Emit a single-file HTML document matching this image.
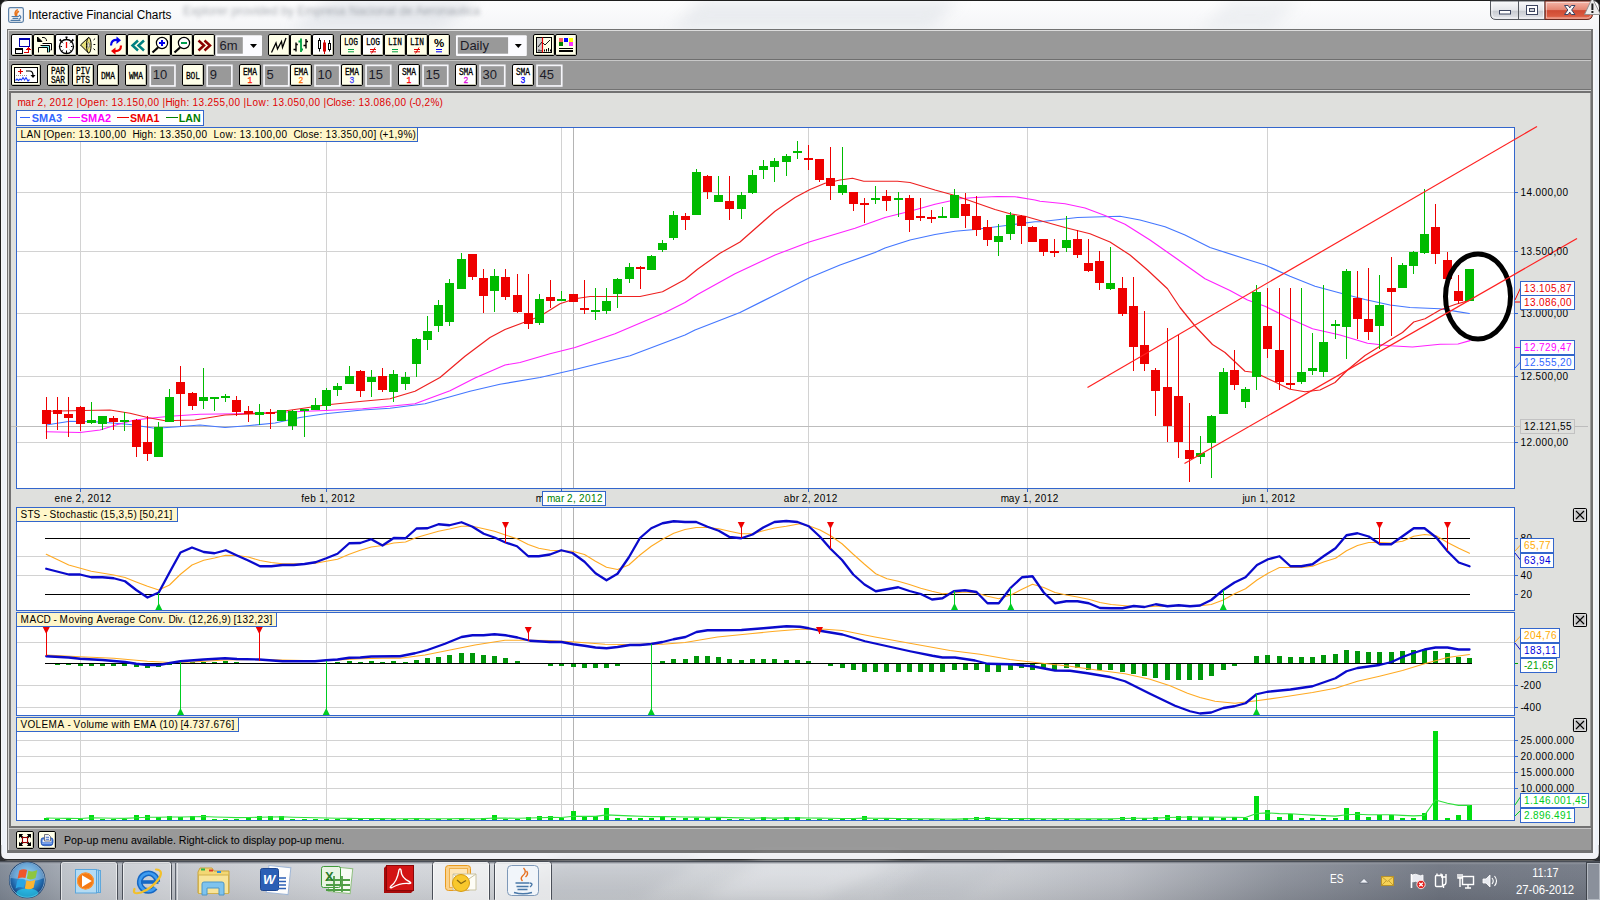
<!DOCTYPE html>
<html lang="es"><head><meta charset="utf-8"><title>Interactive Financial Charts</title>
<style>html,body{margin:0;padding:0;background:#f3f5f8;overflow:hidden}svg{display:block;font-family:"Liberation Sans",Arial,sans-serif}</style></head>
<body><svg width="1600" height="900" viewBox="0 0 1600 900">
<defs><linearGradient id="gTitle" x1="0" y1="0" x2="0" y2="1"><stop offset="0" stop-color="#fdfdfe"/><stop offset="1" stop-color="#f4f5f7"/></linearGradient><linearGradient id="gStreak" x1="0" y1="0" x2="1" y2="0"><stop offset="0" stop-color="#e9ecf0" stop-opacity="0"/><stop offset="0.3" stop-color="#dfe3e8" stop-opacity="0.9"/><stop offset="0.6" stop-color="#e9ecf0" stop-opacity="0.5"/><stop offset="1" stop-color="#e9ecf0" stop-opacity="0"/></linearGradient><linearGradient id="gClose" x1="0" y1="0" x2="0" y2="1"><stop offset="0" stop-color="#f6b9ac"/><stop offset="0.47" stop-color="#e48673"/><stop offset="0.52" stop-color="#cf4a33"/><stop offset="0.8" stop-color="#d95a40"/><stop offset="1" stop-color="#e9846c"/></linearGradient><linearGradient id="gCap" x1="0" y1="0" x2="0" y2="1"><stop offset="0" stop-color="#fafbfc"/><stop offset="0.5" stop-color="#e3e5e9"/><stop offset="0.55" stop-color="#c9ccd2"/><stop offset="1" stop-color="#e6e8ec"/></linearGradient><linearGradient id="gTask" x1="0" y1="0" x2="1" y2="0"><stop offset="0" stop-color="#7e8794"/><stop offset="0.05" stop-color="#a9afb8"/><stop offset="0.12" stop-color="#c4c7cd"/><stop offset="0.2" stop-color="#d2d5da"/><stop offset="0.38" stop-color="#d3d6da"/><stop offset="0.6" stop-color="#cfd2d7"/><stop offset="0.7" stop-color="#b9bcc3"/><stop offset="0.8" stop-color="#8d929c"/><stop offset="0.9" stop-color="#6f7581"/><stop offset="1" stop-color="#737985"/></linearGradient><linearGradient id="gTaskV" x1="0" y1="0" x2="0" y2="1"><stop offset="0" stop-color="#ffffff" stop-opacity="0.35"/><stop offset="0.1" stop-color="#ffffff" stop-opacity="0.05"/><stop offset="1" stop-color="#000000" stop-opacity="0.08"/></linearGradient><radialGradient id="gOrb" cx="0.5" cy="0.4" r="0.6"><stop offset="0" stop-color="#6fc3ee"/><stop offset="0.6" stop-color="#2b7fc4"/><stop offset="1" stop-color="#123f7a"/></radialGradient></defs>
<rect x="0" y="0" width="1600" height="900" fill="#f6f7f9" shape-rendering="crispEdges"/>
<rect x="0" y="0" width="1600" height="30" fill="url(#gTitle)" shape-rendering="crispEdges"/>
<filter id="fBlur2" x="-20%" y="-100%" width="140%" height="300%"><feGaussianBlur stdDeviation="7"/></filter>
<polygon points="330,0 480,0 440,30 290,30" fill="#e2e5ea" opacity="0.8" filter="url(#fBlur2)"/>
<polygon points="700,0 960,0 930,30 670,30" fill="#e6e9ed" opacity="0.8" filter="url(#fBlur2)"/>
<polygon points="1230,0 1300,0 1270,30 1200,30" fill="#e6e9ed" opacity="0.6" filter="url(#fBlur2)"/>
<path d="M0.5,900 V8 Q0.5,0.5 8,0.5 H1592 Q1599.5,0.5 1599.5,8 V900" fill="none" stroke="#1e1e1e" stroke-width="1"/>
<path d="M0,0 H9 Q0,0 0,9 Z" fill="#1a1a1a"/>
<path d="M1600,0 H1591 Q1600,0 1600,9 Z" fill="#1a1a1a"/>
<g><rect x="8.6" y="7.7" width="14.8" height="14.6" rx="1.8" fill="#f3f4f6" stroke="#5c81a8" stroke-width="1.2"/><path d="M17.300,9.900 q-3.300,2.200 -1.700,5.700 M18.400,11.500 q-2.600,1.700 -1.700,4.200" stroke="#e8741c" stroke-width="1.500" fill="none" stroke-linecap="round"/><path d="M12,16.500 h6.500 M13,18.400 h4.800 M11,20.400 h9" stroke="#4f7ba8" stroke-width="1.100" fill="none" stroke-linecap="round"/><path d="M19.200,15.400 q3.300,1.600 0,3.800" stroke="#4f7ba8" stroke-width="1.200" fill="none" stroke-linecap="round"/></g>
<filter id="fBlur" x="-5%" y="-50%" width="110%" height="200%"><feGaussianBlur stdDeviation="1.9"/></filter>
<text xml:space="preserve" x="183" y="15" font-size="12" fill="#5a616b" textLength="297" lengthAdjust="spacingAndGlyphs" font-family='"Liberation Sans", Arial, sans-serif' filter="url(#fBlur)" opacity="0.5">Explorer provided by Empresa Nacional de Aeronautica</text>
<text xml:space="preserve" x="28.5" y="18.7" font-size="12" fill="#000" textLength="143" lengthAdjust="spacingAndGlyphs" font-family='"Liberation Sans", Arial, sans-serif'>Interactive Financial Charts</text>
<path d="M1490.5,1 V14 Q1490.5,19.5 1496,19.5 H1545 V1 Z" fill="url(#gCap)" stroke="#55595f" stroke-width="1"/>
<path d="M1545,1 V19.5 H1587 Q1592.5,19.5 1592.5,14 V1 Z" fill="url(#gClose)" stroke="#6a2a20" stroke-width="1"/>
<path d="M1546.500,2.500 V18 H1586.500 Q1591,18 1591,13.500 V2.500 Z" fill="none" stroke="#ffffff" stroke-opacity="0.45" stroke-width="1"/>
<path d="M1492,2.500 V13.500 Q1492,18 1496.500,18 H1543.500 V2.500" fill="none" stroke="#ffffff" stroke-opacity="0.7" stroke-width="1"/>
<line x1="1518.5" y1="1" x2="1518.5" y2="19.5" stroke="#55595f" stroke-width="1"/>
<rect x="1499.5" y="10.5" width="11" height="3.5" fill="#fff" stroke="#3d4660" stroke-width="1"/>
<rect x="1526.5" y="5.5" width="11" height="9" fill="#fff" stroke="#3d4660" stroke-width="1"/>
<rect x="1529.5" y="8.5" width="5" height="3" fill="#cfd2d8" stroke="#3d4660" stroke-width="1"/>
<path d="M1564.500,5.500 H1568.200 L1569.750,7.900 L1571.300,5.500 H1575 L1571.650,10 L1575,14.500 H1571.300 L1569.750,12.100 L1568.200,14.500 H1564.500 L1567.850,10 Z" fill="#fbfbfb" stroke="#3a4566" stroke-width="1" stroke-linejoin="round"/>
<path d="M1584.500,14.500 L1592.300,-2 L1600.500,14.500 Z" fill="#ececec" stroke="#8a8a8a" stroke-width="0.9"/>
<rect x="1591.400" y="3.500" width="2" height="6.500" fill="#1a1a1a"/><rect x="1591.400" y="11" width="2" height="2" fill="#1a1a1a"/>
<rect x="2.3" y="30" width="3.2" height="825" fill="#eef2f8" shape-rendering="crispEdges"/>
<rect x="1594.5" y="30" width="3.2" height="825" fill="#eef2f8" shape-rendering="crispEdges"/>
<rect x="7" y="29" width="1586" height="823.5" fill="#727272" shape-rendering="crispEdges"/>
<rect x="8" y="30" width="1" height="820.4" fill="#d4d4d4" shape-rendering="crispEdges"/>
<rect x="8" y="30" width="1583" height="1" fill="#dcdcdc" shape-rendering="crispEdges"/>
<rect x="9" y="31" width="1582" height="58" fill="#999999" shape-rendering="crispEdges"/>
<rect x="9" y="59" width="1582" height="1" fill="#6e6e6e" shape-rendering="crispEdges"/>
<rect x="9" y="60" width="1582" height="1" fill="#c8c8c8" shape-rendering="crispEdges"/>
<rect x="9" y="90" width="1582" height="1" fill="#d8d8d8" shape-rendering="crispEdges"/>
<rect x="11" y="93" width="1579" height="733" fill="#dfe0dd" shape-rendering="crispEdges"/>
<rect x="1590" y="93" width="1" height="733" fill="#9c9c9c" shape-rendering="crispEdges"/>
<rect x="9" y="827.7" width="1582" height="1.3" fill="#c8c8c8" shape-rendering="crispEdges"/>
<rect x="9" y="829" width="1582" height="21.4" fill="#999999" shape-rendering="crispEdges"/>
<rect x="1" y="852.5" width="1598" height="7" fill="#f2f3f6" shape-rendering="crispEdges"/>
<path d="M0.5,845 V853 Q0.5,859.8 7,859.8 H1593 Q1599.5,859.8 1599.5,853 V845" fill="none" stroke="#2a2a2a" stroke-width="1.4"/>
<path d="M0,861 V852 Q0,860.500 8,860.500 H1592 Q1600,860.500 1600,852 V861 Z" fill="#2e3033"/>
<rect x="11.5" y="34.5" width="21" height="21" rx="1.5" fill="#ffffff" stroke="#000" stroke-width="1"/>
<path d="M12.5,54.5 H31.5 V35.5" fill="none" stroke="#c9c9b4" stroke-width="1"/>
<g shape-rendering="crispEdges"><rect x="19.5" y="38.5" width="10" height="8" fill="#fff" stroke="#0000b0"/><rect x="19" y="38" width="11" height="2" fill="#0000b0"/><rect x="15.5" y="48.5" width="7" height="5" fill="#fff" stroke="#000"/><rect x="15" y="48" width="8" height="2" fill="#000"/><path d="M23.5,52.5 H28.5 V49" fill="none" stroke="#e00000"/><path d="M26,50 L28.5,47 L31,50 Z" fill="#e00000"/></g>
<rect x="33.5" y="34.5" width="21" height="21" rx="1.5" fill="#ffffe9" stroke="#000" stroke-width="1"/>
<path d="M34.5,54.5 H53.5 V35.5" fill="none" stroke="#c9c9b4" stroke-width="1"/>
<g fill="none" stroke="#000" stroke-width="1"><path d="M46.5,41 q0,-4 -4.5,-3.5"/><path d="M37.5,37 v4.5 h4.5 Z" fill="#000"/><path d="M42.5,43.5 h9 v6.5 h-1" fill="#fff"/><path d="M40.500,45.5 h9 v6.500 h-1" fill="#7ff0f0"/><path d="M38.5,52.500 v-5 h9 v5" fill="#ffffe9"/></g>
<rect x="55.5" y="34.5" width="21" height="21" rx="1.5" fill="#ffffff" stroke="#000" stroke-width="1"/>
<path d="M56.5,54.5 H75.5 V35.5" fill="none" stroke="#c9c9b4" stroke-width="1"/>
<g stroke="#000" fill="none"><circle cx="66.5" cy="46.5" r="7" stroke-width="1.3"/><rect x="65.5" y="36.5" width="2" height="1.5" fill="#000" stroke="none"/><path d="M66.500,37.500 v2.500 M59.500,40 l2.500,2 M60,39 l1.500,2.500 M73.500,40 l-2.500,2 M73,39 l-1.500,2.500" stroke-width="1.200"/><path d="M66.500,50.500 v2.500 M60.500,46.500 h1.500 M71,46.500 h1.500 M62.300,42.300 l0.900,0.900 M70.700,42.300 l-0.900,0.900 M62.300,50.700 l0.900,-0.900 M70.700,50.700 l-0.900,-0.900" stroke-width="1"/><path d="M66.500,42 v6" stroke="#f00000" stroke-width="1.300"/></g>
<rect x="77.5" y="34.5" width="21" height="21" rx="1.5" fill="#ffffe9" stroke="#000" stroke-width="1"/>
<path d="M78.5,54.5 H97.5 V35.5" fill="none" stroke="#c9c9b4" stroke-width="1"/>
<g><path d="M80.500,45 L88.500,37.500 L88.500,53 Z" fill="#e8e07a" stroke="#000" stroke-width="1"/><ellipse cx="88.800" cy="45.300" rx="2.300" ry="7.800" fill="#e8e07a" stroke="#000" stroke-width="1"/><ellipse cx="88.500" cy="45.300" rx="0.900" ry="2.600" fill="#fffff0" stroke="#555" stroke-width="0.700"/><path d="M93.500,40 l1.600,-1.400 M93.500,44.500 h1.800 M93.500,48.700 l1.600,1.400" stroke="#000" stroke-width="1"/></g>
<rect x="105.5" y="34.5" width="21" height="21" rx="1.5" fill="#ffffe9" stroke="#000" stroke-width="1"/>
<path d="M106.5,54.5 H125.5 V35.5" fill="none" stroke="#c9c9b4" stroke-width="1"/>
<g fill="none" stroke-width="2.2"><path d="M111,45.500 q0,-6 6.500,-5.500" stroke="#0000ee"/><path d="M116.500,36.500 l4.500,3.800 l-4.500,3.600 Z" fill="#0000ee" stroke="none"/><path d="M121,45.500 q0,6 -6.500,5.500" stroke="#ee0000"/><path d="M115.500,47.500 l-4.500,3.600 l4.500,3.600 Z" fill="#ee0000" stroke="none"/></g>
<rect x="127.5" y="34.5" width="21" height="21" rx="1.5" fill="#ffffe9" stroke="#000" stroke-width="1"/>
<path d="M128.5,54.5 H147.5 V35.5" fill="none" stroke="#c9c9b4" stroke-width="1"/>
<path d="M138,40.500 l-5.500,5 l5.500,5 M144,40.500 l-5.500,5 l5.500,5" fill="none" stroke="#008080" stroke-width="2.5" stroke-linejoin="miter"/>
<rect x="149.5" y="34.5" width="21" height="21" rx="1.5" fill="#ffffe9" stroke="#000" stroke-width="1"/>
<path d="M150.5,54.5 H169.5 V35.5" fill="none" stroke="#c9c9b4" stroke-width="1"/>
<g><circle cx="162" cy="43" r="5.600" fill="#fff" stroke="#000" stroke-width="1.2"/><path d="M158,47.500 L152.500,52.500" stroke="#000" stroke-width="2.2"/><path d="M159,43 h6 M162,40 v6" stroke="#0000ee" stroke-width="2"/></g>
<rect x="171.5" y="34.5" width="21" height="21" rx="1.5" fill="#ffffe9" stroke="#000" stroke-width="1"/>
<path d="M172.5,54.5 H191.5 V35.5" fill="none" stroke="#c9c9b4" stroke-width="1"/>
<g><circle cx="184" cy="43" r="5.600" fill="#fff" stroke="#000" stroke-width="1.2"/><path d="M180,47.500 L174.500,52.500" stroke="#000" stroke-width="2.2"/><path d="M181,43 h6" stroke="#00a050" stroke-width="2"/></g>
<rect x="193.5" y="34.5" width="21" height="21" rx="1.5" fill="#ffffe9" stroke="#000" stroke-width="1"/>
<path d="M194.5,54.5 H213.5 V35.5" fill="none" stroke="#c9c9b4" stroke-width="1"/>
<path d="M198.500,40.500 l5.500,5 l-5.500,5 M204.500,40.500 l5.500,5 l-5.500,5" fill="none" stroke="#8b0000" stroke-width="2.5" stroke-linejoin="miter"/>
<rect x="215.5" y="35.2" width="46.5" height="20.8" rx="1" fill="#fbfbff"/><rect x="217.300" y="37.200" width="25.500" height="16.500" fill="#999999"/>
<text xml:space="preserve" x="219.5" y="50" font-size="13" fill="#1c1c28" font-family='"Liberation Sans", Arial, sans-serif'>6m</text>
<path d="M250,44 h7 l-3.500,4 Z" fill="#000"/>
<rect x="268.5" y="34.5" width="21" height="21" rx="1.5" fill="#ffffe9" stroke="#000" stroke-width="1"/>
<path d="M269.5,54.5 H288.5 V35.5" fill="none" stroke="#c9c9b4" stroke-width="1"/>
<path d="M271.500,52.500 L276,43 L277.500,49 L281.500,41.500 L282.500,47.500 L286,38" fill="none" stroke="#000" stroke-width="1.300"/>
<rect x="290.5" y="34.5" width="21" height="21" rx="1.5" fill="#ffffe9" stroke="#000" stroke-width="1"/>
<path d="M291.5,54.5 H310.5 V35.5" fill="none" stroke="#c9c9b4" stroke-width="1"/>
<g stroke-width="1.4" fill="none"><path d="M296,42.500 v9 M293.500,49.500 h2.500 M296,44.500 h1.800" stroke="#000"/><path d="M301,38.500 v13.500 M298.500,41.500 h2.500 M301,49.500 h2" stroke="#00a040" stroke-width="1.800"/><path d="M306,39 v9.500 M303.500,45.500 h2.500 M306,41.500 h2" stroke="#000"/></g>
<rect x="312.5" y="34.5" width="21" height="21" rx="1.5" fill="#ffffff" stroke="#000" stroke-width="1"/>
<path d="M313.5,54.5 H332.5 V35.5" fill="none" stroke="#c9c9b4" stroke-width="1"/>
<g><path d="M319.500,38 v13.500" stroke="#000"/><rect x="318.500" y="40.500" width="2" height="8" fill="#fff" stroke="#000"/><path d="M324.500,40 v14" stroke="#d00000"/><rect x="323.500" y="43" width="2" height="8" fill="#d00000" stroke="#d00000"/><path d="M329.500,40 v11.500" stroke="#000"/><rect x="328.500" y="43.500" width="2" height="6" fill="#fff" stroke="#000"/></g>
<rect x="340.5" y="34.5" width="21" height="21" rx="1.5" fill="#ffffe9" stroke="#000" stroke-width="1"/>
<path d="M341.5,54.5 H360.5 V35.5" fill="none" stroke="#c9c9b4" stroke-width="1"/>
<text xml:space="preserve" x="343.9" y="45.3" font-size="10.6" fill="#000" textLength="14.2" lengthAdjust="spacingAndGlyphs" font-family='"Liberation Mono", monospace' stroke="#000" stroke-width="0.3">LOG</text>
<path d="M348,49.500 h6 M348,51.800 h6" stroke="#00a040" stroke-width="1"/>
<rect x="362.5" y="34.5" width="21" height="21" rx="1.5" fill="#ffffff" stroke="#000" stroke-width="1"/>
<path d="M363.5,54.5 H382.5 V35.5" fill="none" stroke="#c9c9b4" stroke-width="1"/>
<text xml:space="preserve" x="365.9" y="45.3" font-size="10.6" fill="#000" textLength="14.2" lengthAdjust="spacingAndGlyphs" font-family='"Liberation Mono", monospace' stroke="#000" stroke-width="0.3">LOG</text>
<path d="M370,49.500 h6 M370,51.800 h6" stroke="#e00000" stroke-width="1"/>
<path d="M371.5,53.500 l3.500,-6" stroke="#e00000" stroke-width="1"/>
<rect x="384.5" y="34.5" width="21" height="21" rx="1.5" fill="#ffffe9" stroke="#000" stroke-width="1"/>
<path d="M385.5,54.5 H404.5 V35.5" fill="none" stroke="#c9c9b4" stroke-width="1"/>
<text xml:space="preserve" x="387.9" y="45.3" font-size="10.6" fill="#000" textLength="14.2" lengthAdjust="spacingAndGlyphs" font-family='"Liberation Mono", monospace' stroke="#000" stroke-width="0.3">LIN</text>
<path d="M392,49.500 h6 M392,51.800 h6" stroke="#00a040" stroke-width="1"/>
<rect x="406.5" y="34.5" width="21" height="21" rx="1.5" fill="#ffffe9" stroke="#000" stroke-width="1"/>
<path d="M407.5,54.5 H426.5 V35.5" fill="none" stroke="#c9c9b4" stroke-width="1"/>
<text xml:space="preserve" x="409.9" y="45.3" font-size="10.6" fill="#000" textLength="14.2" lengthAdjust="spacingAndGlyphs" font-family='"Liberation Mono", monospace' stroke="#000" stroke-width="0.3">LIN</text>
<path d="M414,49.500 h6 M414,51.800 h6" stroke="#e00000" stroke-width="1"/>
<path d="M415.5,53.500 l3.500,-6" stroke="#e00000" stroke-width="1"/>
<rect x="428.5" y="34.5" width="21" height="21" rx="1.5" fill="#ffffe9" stroke="#000" stroke-width="1"/>
<path d="M429.5,54.5 H448.5 V35.5" fill="none" stroke="#c9c9b4" stroke-width="1"/>
<text xml:space="preserve" x="439" y="47" font-size="11.5" fill="#000" font-weight="bold" text-anchor="middle" font-family='"Liberation Sans", Arial, sans-serif'>%</text>
<path d="M436,49.500 h6 M436,51.800 h6" stroke="#0000ff" stroke-width="1"/>
<rect x="456" y="35.2" width="70.8" height="20.8" rx="1" fill="#fbfbff"/><rect x="457.800" y="37.200" width="50.300" height="16.500" fill="#999999"/>
<text xml:space="preserve" x="460" y="50" font-size="13" fill="#1c1c28" font-family='"Liberation Sans", Arial, sans-serif'>Daily</text>
<path d="M514.800,44 h7 l-3.500,4 Z" fill="#000"/>
<rect x="533.5" y="34.5" width="21" height="21" rx="1.5" fill="#ffffe9" stroke="#000" stroke-width="1"/>
<path d="M534.5,54.5 H553.5 V35.5" fill="none" stroke="#c9c9b4" stroke-width="1"/>
<g><rect x="536.500" y="37.500" width="15" height="15" fill="#ffffe9" stroke="#000"/><rect x="537" y="38" width="5" height="14" fill="#d0d0d0"/><path d="M538,47 l4,-5 l3,3 l5,-5" fill="none" stroke="#000" stroke-width="0.9"/><path d="M539,49.500 v2 M541,50 v1.500 M544.500,49.500 v2 M546.500,49 v2.500 M548.500,48 v3.500 M550.500,49.500 v2" stroke="#000" stroke-width="1"/><path d="M542.500,37.500 v15" stroke="#f00000" stroke-width="1.200"/></g>
<rect x="555.5" y="34.5" width="21" height="21" rx="1.5" fill="#ffffe9" stroke="#000" stroke-width="1"/>
<path d="M556.5,54.5 H575.5 V35.5" fill="none" stroke="#c9c9b4" stroke-width="1"/>
<g shape-rendering="crispEdges"><rect x="559" y="38" width="4" height="4" fill="#ff6060"/><rect x="564" y="38" width="4" height="4" fill="#0000ff"/><rect x="569" y="38" width="4" height="4" fill="#ffff00"/><rect x="559" y="42" width="4" height="4" fill="#008000"/><rect x="564" y="42" width="4" height="4" fill="#f4f4f4"/><rect x="569" y="42" width="4" height="4" fill="#ff30ff"/><rect x="559" y="48" width="14" height="1" fill="#000"/><rect x="559" y="50" width="14" height="2" fill="#000"/></g>
<rect x="11.5" y="64.5" width="29" height="21" rx="1.5" fill="#ffffe9" stroke="#000" stroke-width="1"/>
<path d="M12.5,84.5 H39.5 V65.5" fill="none" stroke="#c9c9b4" stroke-width="1"/>
<g><rect x="14.500" y="67.500" width="23" height="15" fill="#fff" stroke="#000"/><path d="M18,71.500 h5 M20.500,69 v5" stroke="#e00000" stroke-width="1.200"/><path d="M26,71 h3.500 q3.500,0 3.500,4.500" fill="none" stroke="#000" stroke-width="1.200"/><path d="M30.500,75 h5 l-2.500,3 Z" fill="#000"/><path d="M16,75.500 h11" stroke="#999" stroke-width="1" stroke-dasharray="1 1"/><path d="M15.500,80.500 l1.500,-1.500 l1.500,1.500 l1.500,-1.500 l1.500,1 l1.500,-2.500 l1.500,2.500 l1.500,-2.500 l2,3.500 l1.500,-1.500" fill="none" stroke="#2040ff" stroke-width="1.100"/></g>
<rect x="47.5" y="64.5" width="21" height="21" rx="1.5" fill="#ffffe9" stroke="#000" stroke-width="1"/>
<path d="M48.5,84.5 H67.5 V65.5" fill="none" stroke="#c9c9b4" stroke-width="1"/>
<text xml:space="preserve" x="50.9" y="74.3" font-size="10.6" fill="#000" textLength="14.2" lengthAdjust="spacingAndGlyphs" font-family='"Liberation Mono", monospace' stroke="#000" stroke-width="0.3">PAR</text>
<text xml:space="preserve" x="50.9" y="83.3" font-size="10.6" fill="#000" textLength="14.2" lengthAdjust="spacingAndGlyphs" font-family='"Liberation Mono", monospace' stroke="#000" stroke-width="0.3">SAR</text>
<rect x="72.5" y="64.5" width="21" height="21" rx="1.5" fill="#ffffe9" stroke="#000" stroke-width="1"/>
<path d="M73.5,84.5 H92.5 V65.5" fill="none" stroke="#c9c9b4" stroke-width="1"/>
<text xml:space="preserve" x="75.9" y="74.3" font-size="10.6" fill="#000" textLength="14.2" lengthAdjust="spacingAndGlyphs" font-family='"Liberation Mono", monospace' stroke="#000" stroke-width="0.3">PIV</text>
<text xml:space="preserve" x="75.9" y="83.3" font-size="10.6" fill="#000" textLength="14.2" lengthAdjust="spacingAndGlyphs" font-family='"Liberation Mono", monospace' stroke="#000" stroke-width="0.3">PTS</text>
<rect x="97.5" y="64.5" width="21" height="21" rx="1.5" fill="#ffffe9" stroke="#000" stroke-width="1"/>
<path d="M98.5,84.5 H117.5 V65.5" fill="none" stroke="#c9c9b4" stroke-width="1"/>
<text xml:space="preserve" x="100.9" y="79" font-size="10.6" fill="#000" textLength="14.2" lengthAdjust="spacingAndGlyphs" font-family='"Liberation Mono", monospace' stroke="#000" stroke-width="0.3">DMA</text>
<rect x="125.5" y="64.5" width="21" height="21" rx="1.5" fill="#ffffe9" stroke="#000" stroke-width="1"/>
<path d="M126.5,84.5 H145.5 V65.5" fill="none" stroke="#c9c9b4" stroke-width="1"/>
<text xml:space="preserve" x="128.9" y="79" font-size="10.6" fill="#000" textLength="14.2" lengthAdjust="spacingAndGlyphs" font-family='"Liberation Mono", monospace' stroke="#000" stroke-width="0.3">WMA</text>
<rect x="150.25" y="65.35" width="24.7" height="20.6" fill="#999999" stroke="#f6f6fa" stroke-width="1.7"/>
<text xml:space="preserve" x="152.8" y="79" font-size="13" fill="#1c1c28" font-family='"Liberation Sans", Arial, sans-serif'>10</text>
<rect x="182.5" y="64.5" width="21" height="21" rx="1.5" fill="#ffffe9" stroke="#000" stroke-width="1"/>
<path d="M183.5,84.5 H202.5 V65.5" fill="none" stroke="#c9c9b4" stroke-width="1"/>
<text xml:space="preserve" x="185.9" y="79" font-size="10.6" fill="#000" textLength="14.2" lengthAdjust="spacingAndGlyphs" font-family='"Liberation Mono", monospace' stroke="#000" stroke-width="0.3">BOL</text>
<rect x="207.15" y="65.35" width="24.7" height="20.6" fill="#999999" stroke="#f6f6fa" stroke-width="1.7"/>
<text xml:space="preserve" x="209.7" y="79" font-size="13" fill="#1c1c28" font-family='"Liberation Sans", Arial, sans-serif'>9</text>
<rect x="239.5" y="64.5" width="21" height="21" rx="1.5" fill="#ffffe9" stroke="#000" stroke-width="1"/>
<path d="M240.5,84.5 H259.5 V65.5" fill="none" stroke="#c9c9b4" stroke-width="1"/>
<text xml:space="preserve" x="242.9" y="75" font-size="10.6" fill="#000" textLength="14.2" lengthAdjust="spacingAndGlyphs" font-family='"Liberation Mono", monospace' stroke="#000" stroke-width="0.3">EMA</text>
<text xml:space="preserve" x="247.6" y="83.2" font-size="9.4" fill="#ff2000" textLength="4.8" lengthAdjust="spacingAndGlyphs" font-family='"Liberation Mono", monospace' stroke="#ff2000" stroke-width="0.3">1</text>
<rect x="264.05" y="65.35" width="24.7" height="20.6" fill="#999999" stroke="#f6f6fa" stroke-width="1.7"/>
<text xml:space="preserve" x="266.6" y="79" font-size="13" fill="#1c1c28" font-family='"Liberation Sans", Arial, sans-serif'>5</text>
<rect x="290.5" y="64.5" width="21" height="21" rx="1.5" fill="#ffffe9" stroke="#000" stroke-width="1"/>
<path d="M291.5,84.5 H310.5 V65.5" fill="none" stroke="#c9c9b4" stroke-width="1"/>
<text xml:space="preserve" x="293.9" y="75" font-size="10.6" fill="#000" textLength="14.2" lengthAdjust="spacingAndGlyphs" font-family='"Liberation Mono", monospace' stroke="#000" stroke-width="0.3">EMA</text>
<text xml:space="preserve" x="298.6" y="83.2" font-size="9.4" fill="#ff7000" textLength="4.8" lengthAdjust="spacingAndGlyphs" font-family='"Liberation Mono", monospace' stroke="#ff7000" stroke-width="0.3">2</text>
<rect x="315.05" y="65.35" width="24.7" height="20.6" fill="#999999" stroke="#f6f6fa" stroke-width="1.7"/>
<text xml:space="preserve" x="317.6" y="79" font-size="13" fill="#1c1c28" font-family='"Liberation Sans", Arial, sans-serif'>10</text>
<rect x="341.5" y="64.5" width="21" height="21" rx="1.5" fill="#ffffe9" stroke="#000" stroke-width="1"/>
<path d="M342.5,84.5 H361.5 V65.5" fill="none" stroke="#c9c9b4" stroke-width="1"/>
<text xml:space="preserve" x="344.9" y="75" font-size="10.6" fill="#000" textLength="14.2" lengthAdjust="spacingAndGlyphs" font-family='"Liberation Mono", monospace' stroke="#000" stroke-width="0.3">EMA</text>
<text xml:space="preserve" x="349.6" y="83.2" font-size="9.4" fill="#4040ff" textLength="4.8" lengthAdjust="spacingAndGlyphs" font-family='"Liberation Mono", monospace' stroke="#4040ff" stroke-width="0.3">3</text>
<rect x="366.05" y="65.35" width="24.7" height="20.6" fill="#999999" stroke="#f6f6fa" stroke-width="1.7"/>
<text xml:space="preserve" x="368.6" y="79" font-size="13" fill="#1c1c28" font-family='"Liberation Sans", Arial, sans-serif'>15</text>
<rect x="398.5" y="64.5" width="21" height="21" rx="1.5" fill="#ffffff" stroke="#000" stroke-width="1"/>
<path d="M399.5,84.5 H418.5 V65.5" fill="none" stroke="#c9c9b4" stroke-width="1"/>
<text xml:space="preserve" x="401.9" y="75" font-size="10.6" fill="#000" textLength="14.2" lengthAdjust="spacingAndGlyphs" font-family='"Liberation Mono", monospace' stroke="#000" stroke-width="0.3">SMA</text>
<text xml:space="preserve" x="406.6" y="83.2" font-size="9.4" fill="#ff0000" textLength="4.8" lengthAdjust="spacingAndGlyphs" font-family='"Liberation Mono", monospace' stroke="#ff0000" stroke-width="0.3">1</text>
<rect x="423.05" y="65.35" width="24.7" height="20.6" fill="#999999" stroke="#f6f6fa" stroke-width="1.7"/>
<text xml:space="preserve" x="425.6" y="79" font-size="13" fill="#1c1c28" font-family='"Liberation Sans", Arial, sans-serif'>15</text>
<rect x="455.5" y="64.5" width="21" height="21" rx="1.5" fill="#ffffff" stroke="#000" stroke-width="1"/>
<path d="M456.5,84.5 H475.5 V65.5" fill="none" stroke="#c9c9b4" stroke-width="1"/>
<text xml:space="preserve" x="458.9" y="75" font-size="10.6" fill="#000" textLength="14.2" lengthAdjust="spacingAndGlyphs" font-family='"Liberation Mono", monospace' stroke="#000" stroke-width="0.3">SMA</text>
<text xml:space="preserve" x="463.6" y="83.2" font-size="9.4" fill="#e000e0" textLength="4.8" lengthAdjust="spacingAndGlyphs" font-family='"Liberation Mono", monospace' stroke="#e000e0" stroke-width="0.3">2</text>
<rect x="480.05" y="65.35" width="24.7" height="20.6" fill="#999999" stroke="#f6f6fa" stroke-width="1.7"/>
<text xml:space="preserve" x="482.6" y="79" font-size="13" fill="#1c1c28" font-family='"Liberation Sans", Arial, sans-serif'>30</text>
<rect x="512.5" y="64.5" width="21" height="21" rx="1.5" fill="#ffffff" stroke="#000" stroke-width="1"/>
<path d="M513.5,84.5 H532.5 V65.5" fill="none" stroke="#c9c9b4" stroke-width="1"/>
<text xml:space="preserve" x="515.9" y="75" font-size="10.6" fill="#000" textLength="14.2" lengthAdjust="spacingAndGlyphs" font-family='"Liberation Mono", monospace' stroke="#000" stroke-width="0.3">SMA</text>
<text xml:space="preserve" x="520.6" y="83.2" font-size="9.4" fill="#0000ff" textLength="4.8" lengthAdjust="spacingAndGlyphs" font-family='"Liberation Mono", monospace' stroke="#0000ff" stroke-width="0.3">3</text>
<rect x="537.05" y="65.35" width="24.7" height="20.6" fill="#999999" stroke="#f6f6fa" stroke-width="1.7"/>
<text xml:space="preserve" x="539.6" y="79" font-size="13" fill="#1c1c28" font-family='"Liberation Sans", Arial, sans-serif'>45</text>
<text xml:space="preserve" x="17.5 25.5 31.5 34.5 37.5 43.5 46.5 49.5 55.5 61.5 67.5 73.5 76.5 79.5 87.5 93.5 99.5 105.5 108.5 111.5 117.5 123.5 126.5 132.5 138.5 144.5 147.5 153.5 159.5 162.5 165.5 172.5 174.5 180.5 186.5 189.5 192.5 198.5 204.5 207.5 213.5 219.5 225.5 228.5 234.5 240.5 243.5 246.5 252.5 258.5 266.5 269.5 272.5 278.5 284.5 287.5 293.5 299.5 305.5 308.5 314.5 320.5 323.5 326.5 333.5 335.5 341.5 346.5 352.5 355.5 358.5 364.5 370.5 373.5 379.5 385.5 391.5 394.5 400.5 406.5 409.5 412.5 415.5 421.5 424.5 430.5 439.5" y="106" font-size="10" fill="#e00000" font-family='"Liberation Sans", Arial, sans-serif'>mar 2, 2012 |Open: 13.150,00 |High: 13.255,00 |Low: 13.050,00 |Close: 13.086,00 (-0,2%)</text>
<rect x="16.5" y="110.5" width="187" height="15" fill="#ffffff" stroke="#3366cc" shape-rendering="crispEdges"/>
<line x1="19.5" y1="117.5" x2="30" y2="117.5" stroke="#3366ff" stroke-width="1" shape-rendering="crispEdges"/>
<text xml:space="preserve" x="31.8" y="122" font-size="11" fill="#3366ff" font-weight="bold" textLength="30.3" lengthAdjust="spacingAndGlyphs" font-family='"Liberation Sans", Arial, sans-serif'>SMA3</text>
<line x1="68.3" y1="117.5" x2="79.5" y2="117.5" stroke="#ff00ff" stroke-width="1" shape-rendering="crispEdges"/>
<text xml:space="preserve" x="80.8" y="122" font-size="11" fill="#ff00ff" font-weight="bold" textLength="30.4" lengthAdjust="spacingAndGlyphs" font-family='"Liberation Sans", Arial, sans-serif'>SMA2</text>
<line x1="117" y1="117.5" x2="128.7" y2="117.5" stroke="#ee0000" stroke-width="1" shape-rendering="crispEdges"/>
<text xml:space="preserve" x="130" y="122" font-size="11" fill="#ee0000" font-weight="bold" textLength="29.5" lengthAdjust="spacingAndGlyphs" font-family='"Liberation Sans", Arial, sans-serif'>SMA1</text>
<line x1="166.3" y1="117.5" x2="177.5" y2="117.5" stroke="#008000" stroke-width="1" shape-rendering="crispEdges"/>
<text xml:space="preserve" x="178.8" y="122" font-size="11" fill="#008000" font-weight="bold" textLength="22" lengthAdjust="spacingAndGlyphs" font-family='"Liberation Sans", Arial, sans-serif'>LAN</text>
<rect x="16.5" y="127.5" width="1498.0" height="361.0" fill="#ffffff" stroke="#3366cc" shape-rendering="crispEdges"/>
<line x1="80.5" y1="128" x2="80.5" y2="488" stroke="#d2d2d2" stroke-width="1" shape-rendering="crispEdges"/>
<line x1="326.5" y1="128" x2="326.5" y2="488" stroke="#d2d2d2" stroke-width="1" shape-rendering="crispEdges"/>
<line x1="561.5" y1="128" x2="561.5" y2="488" stroke="#d2d2d2" stroke-width="1" shape-rendering="crispEdges"/>
<line x1="808.5" y1="128" x2="808.5" y2="488" stroke="#d2d2d2" stroke-width="1" shape-rendering="crispEdges"/>
<line x1="1027.5" y1="128" x2="1027.5" y2="488" stroke="#d2d2d2" stroke-width="1" shape-rendering="crispEdges"/>
<line x1="1267.5" y1="128" x2="1267.5" y2="488" stroke="#d2d2d2" stroke-width="1" shape-rendering="crispEdges"/>
<line x1="573.5" y1="128" x2="573.5" y2="488" stroke="#b4b4b4" stroke-width="1" shape-rendering="crispEdges"/>
<line x1="17" y1="192.5" x2="1514" y2="192.5" stroke="#d2d2d2" stroke-width="1" shape-rendering="crispEdges"/>
<line x1="17" y1="251.5" x2="1514" y2="251.5" stroke="#d2d2d2" stroke-width="1" shape-rendering="crispEdges"/>
<line x1="17" y1="313.5" x2="1514" y2="313.5" stroke="#d2d2d2" stroke-width="1" shape-rendering="crispEdges"/>
<line x1="17" y1="376.5" x2="1514" y2="376.5" stroke="#d2d2d2" stroke-width="1" shape-rendering="crispEdges"/>
<line x1="17" y1="442.5" x2="1514" y2="442.5" stroke="#d2d2d2" stroke-width="1" shape-rendering="crispEdges"/>
<line x1="11" y1="426.5" x2="1588" y2="426.5" stroke="#bdbdbd" stroke-width="1" shape-rendering="crispEdges"/>
<line x1="80.5" y1="488.5" x2="80.5" y2="491.5" stroke="#3366cc" stroke-width="1" shape-rendering="crispEdges"/>
<line x1="326.5" y1="488.5" x2="326.5" y2="491.5" stroke="#3366cc" stroke-width="1" shape-rendering="crispEdges"/>
<line x1="561.5" y1="488.5" x2="561.5" y2="491.5" stroke="#3366cc" stroke-width="1" shape-rendering="crispEdges"/>
<line x1="808.5" y1="488.5" x2="808.5" y2="491.5" stroke="#3366cc" stroke-width="1" shape-rendering="crispEdges"/>
<line x1="1027.5" y1="488.5" x2="1027.5" y2="491.5" stroke="#3366cc" stroke-width="1" shape-rendering="crispEdges"/>
<line x1="1267.5" y1="488.5" x2="1267.5" y2="491.5" stroke="#3366cc" stroke-width="1" shape-rendering="crispEdges"/>
<polyline points="46.25,425 70,421.25 100,422 130,424.5 155,428.25 175,427 200,425 225,427.5 250,425.5 275,423 300,417.5 325,413.75 362.5,410 390,408.25 425,403.75 470,391.25 500,384.25 540,377.5 575,369.5 630,355.75 685,335 695,330 740,312.5 775,295 810,277.5 840,265 875,252.5 885,248 910,240 935,234.5 955,231.25 975,229.5 1010,225 1035,221.75 1040,221.75 1077.5,217.5 1120,216.25 1140,220 1165,226.75 1185,235 1210,247.5 1245,258.75 1265,265 1290,276.25 1315,286.25 1340,293 1365,299.5 1390,305 1410,307.5 1440,308.75 1456,311.3 1469.3,313.5" fill="none" stroke="#4477ff" stroke-width="1.2" stroke-linejoin="round" stroke-linecap="round" />
<polyline points="46.25,431.75 80,432.5 100,430 117.5,424.5 135,420 150,418.25 170,416.25 200,414.25 237.5,413.75 275,412.5 325,410.5 362.5,408.75 390,406.25 415,403.75 450,390.75 475,378 505,365 520,362.5 550,353.75 575,347.5 615,333.75 665,312.5 685,302.5 697.5,294.5 735,273.75 775,255 810,241.75 855,228.25 885,217.5 910,211.25 935,204.25 960,198.75 975,197.5 997.5,196.5 1015,196.75 1035,200 1040,201.25 1065,203.75 1085,208 1105,215.5 1125,224.25 1150,240 1175,257.5 1205,278.75 1230,290.5 1247.5,300 1265,306.25 1290,318.75 1312.5,328.75 1340,335 1367.5,343.25 1390,345.75 1412.5,347 1440,344.25 1458,344 1470,340.7" fill="none" stroke="#ff22ff" stroke-width="1.2" stroke-linejoin="round" stroke-linecap="round" />
<polyline points="46.25,411.25 110,410 130,413.25 147.5,417.5 165,420.75 195,420 225,415 270,413 300,408.75 325,405 362.5,401.25 390,398.75 415,391.25 440,377.5 465,356.25 490,337.5 505,329.5 525,322 540,316.25 560,303.75 575,298.75 590,296.5 640,296.5 662.5,291.75 685,279.5 697.5,269.25 720,253.25 740,242 775,211.25 795,197.5 810,189.5 825,183.25 840,180 852.5,178.25 863.75,181.25 897.5,181.25 910,182.5 935,190 955,195.5 975,202.5 995,209.5 1010,213.75 1025,216.25 1042.5,221.25 1065,227.5 1090,233.75 1110,242 1130,255 1147.5,270 1167.5,288.75 1180,307.5 1195,326 1212.5,344.5 1225,352.5 1245,371.25 1255,372.5 1275,382 1290,389.25 1305,391.75 1320,390 1335,382.5 1347.5,370 1365,355.5 1390,340 1402.5,332.5 1413.75,322 1425,318.75 1440,310 1455,304.5 1469.5,300.3" fill="none" stroke="#ee2020" stroke-width="1.2" stroke-linejoin="round" stroke-linecap="round" />
<g shape-rendering="crispEdges">
<rect x="46" y="397" width="1" height="42" fill="#ee0000"/><rect x="42" y="410" width="9" height="14" fill="#ee0000"/>
<rect x="57" y="397" width="1" height="33" fill="#ee0000"/><rect x="53" y="410" width="9" height="4" fill="#ee0000"/>
<rect x="68" y="397" width="1" height="40" fill="#ee0000"/><rect x="64" y="414" width="9" height="4" fill="#ee0000"/>
<rect x="80" y="406" width="1" height="25" fill="#ee0000"/><rect x="76" y="407" width="9" height="17" fill="#ee0000"/>
<rect x="91" y="402" width="1" height="22" fill="#00bb00"/><rect x="87" y="420" width="9" height="3" fill="#00bb00"/>
<rect x="102" y="416" width="1" height="14" fill="#00bb00"/><rect x="98" y="416" width="9" height="8" fill="#00bb00"/>
<rect x="113" y="416" width="1" height="14" fill="#ee0000"/><rect x="109" y="418" width="9" height="4" fill="#ee0000"/>
<rect x="124" y="412" width="1" height="19" fill="#00bb00"/><rect x="120" y="420" width="9" height="2" fill="#00bb00"/>
<rect x="136" y="419" width="1" height="38" fill="#ee0000"/><rect x="132" y="420" width="9" height="27" fill="#ee0000"/>
<rect x="147" y="416" width="1" height="45" fill="#ee0000"/><rect x="143" y="442" width="9" height="12" fill="#ee0000"/>
<rect x="158" y="422" width="1" height="35" fill="#00bb00"/><rect x="154" y="427" width="9" height="30" fill="#00bb00"/>
<rect x="169" y="389" width="1" height="33" fill="#00bb00"/><rect x="165" y="397" width="9" height="25" fill="#00bb00"/>
<rect x="180" y="366" width="1" height="60" fill="#ee0000"/><rect x="176" y="382" width="9" height="12" fill="#ee0000"/>
<rect x="192" y="392" width="1" height="18" fill="#ee0000"/><rect x="188" y="393" width="9" height="13" fill="#ee0000"/>
<rect x="203" y="368" width="1" height="41" fill="#00bb00"/><rect x="199" y="397" width="9" height="4" fill="#00bb00"/>
<rect x="214" y="397" width="1" height="14" fill="#00bb00"/><rect x="210" y="397" width="9" height="2" fill="#00bb00"/>
<rect x="225" y="394" width="1" height="8" fill="#00bb00"/><rect x="221" y="396" width="9" height="2" fill="#00bb00"/>
<rect x="236" y="396" width="1" height="20" fill="#ee0000"/><rect x="232" y="400" width="9" height="12" fill="#ee0000"/>
<rect x="248" y="406" width="1" height="16" fill="#ee0000"/><rect x="244" y="411" width="9" height="3" fill="#ee0000"/>
<rect x="259" y="404" width="1" height="21" fill="#00bb00"/><rect x="255" y="412" width="9" height="3" fill="#00bb00"/>
<rect x="270" y="409" width="1" height="20" fill="#ee0000"/><rect x="266" y="412" width="9" height="2" fill="#ee0000"/>
<rect x="281" y="410" width="1" height="11" fill="#00bb00"/><rect x="277" y="410" width="9" height="11" fill="#00bb00"/>
<rect x="292" y="410" width="1" height="20" fill="#00bb00"/><rect x="288" y="411" width="9" height="15" fill="#00bb00"/>
<rect x="304" y="409" width="1" height="28" fill="#00bb00"/><rect x="300" y="409" width="9" height="2" fill="#00bb00"/>
<rect x="315" y="398" width="1" height="12" fill="#00bb00"/><rect x="311" y="405" width="9" height="5" fill="#00bb00"/>
<rect x="326" y="388" width="1" height="22" fill="#00bb00"/><rect x="322" y="390" width="9" height="16" fill="#00bb00"/>
<rect x="337" y="383" width="1" height="13" fill="#00bb00"/><rect x="333" y="386" width="9" height="4" fill="#00bb00"/>
<rect x="349" y="366" width="1" height="18" fill="#00bb00"/><rect x="345" y="376" width="9" height="8" fill="#00bb00"/>
<rect x="360" y="370" width="1" height="27" fill="#ee0000"/><rect x="356" y="371" width="9" height="20" fill="#ee0000"/>
<rect x="371" y="370" width="1" height="27" fill="#00bb00"/><rect x="367" y="377" width="9" height="5" fill="#00bb00"/>
<rect x="382" y="368" width="1" height="24" fill="#ee0000"/><rect x="378" y="376" width="9" height="14" fill="#ee0000"/>
<rect x="393" y="370" width="1" height="32" fill="#00bb00"/><rect x="389" y="374" width="9" height="18" fill="#00bb00"/>
<rect x="405" y="372" width="1" height="18" fill="#00bb00"/><rect x="401" y="377" width="9" height="7" fill="#00bb00"/>
<rect x="416" y="338" width="1" height="39" fill="#00bb00"/><rect x="412" y="339" width="9" height="25" fill="#00bb00"/>
<rect x="427" y="316" width="1" height="34" fill="#00bb00"/><rect x="423" y="331" width="9" height="9" fill="#00bb00"/>
<rect x="438" y="300" width="1" height="32" fill="#00bb00"/><rect x="434" y="305" width="9" height="21" fill="#00bb00"/>
<rect x="449" y="279" width="1" height="47" fill="#00bb00"/><rect x="445" y="283" width="9" height="39" fill="#00bb00"/>
<rect x="461" y="253" width="1" height="36" fill="#00bb00"/><rect x="457" y="259" width="9" height="30" fill="#00bb00"/>
<rect x="472" y="254" width="1" height="26" fill="#ee0000"/><rect x="468" y="254" width="9" height="23" fill="#ee0000"/>
<rect x="483" y="269" width="1" height="44" fill="#ee0000"/><rect x="479" y="278" width="9" height="18" fill="#ee0000"/>
<rect x="494" y="269" width="1" height="43" fill="#00bb00"/><rect x="490" y="276" width="9" height="15" fill="#00bb00"/>
<rect x="505" y="269" width="1" height="31" fill="#ee0000"/><rect x="501" y="277" width="9" height="20" fill="#ee0000"/>
<rect x="517" y="274" width="1" height="39" fill="#ee0000"/><rect x="513" y="295" width="9" height="17" fill="#ee0000"/>
<rect x="528" y="274" width="1" height="55" fill="#ee0000"/><rect x="524" y="313" width="9" height="11" fill="#ee0000"/>
<rect x="539" y="294" width="1" height="31" fill="#00bb00"/><rect x="535" y="299" width="9" height="24" fill="#00bb00"/>
<rect x="550" y="280" width="1" height="28" fill="#ee0000"/><rect x="546" y="297" width="9" height="4" fill="#ee0000"/>
<rect x="561" y="291" width="1" height="10" fill="#00bb00"/><rect x="557" y="299" width="9" height="2" fill="#00bb00"/>
<rect x="573" y="294" width="1" height="8" fill="#ee0000"/><rect x="569" y="294" width="9" height="8" fill="#ee0000"/>
<rect x="584" y="280" width="1" height="34" fill="#ee0000"/><rect x="580" y="308" width="9" height="2" fill="#ee0000"/>
<rect x="595" y="288" width="1" height="32" fill="#00bb00"/><rect x="591" y="310" width="9" height="2" fill="#00bb00"/>
<rect x="606" y="288" width="1" height="26" fill="#00bb00"/><rect x="602" y="301" width="9" height="10" fill="#00bb00"/>
<rect x="617" y="278" width="1" height="30" fill="#00bb00"/><rect x="613" y="279" width="9" height="15" fill="#00bb00"/>
<rect x="629" y="263" width="1" height="20" fill="#00bb00"/><rect x="625" y="267" width="9" height="12" fill="#00bb00"/>
<rect x="640" y="266" width="1" height="23" fill="#ee0000"/><rect x="636" y="267" width="9" height="2" fill="#ee0000"/>
<rect x="651" y="255" width="1" height="15" fill="#00bb00"/><rect x="647" y="256" width="9" height="14" fill="#00bb00"/>
<rect x="662" y="240" width="1" height="12" fill="#00bb00"/><rect x="658" y="243" width="9" height="7" fill="#00bb00"/>
<rect x="673" y="211" width="1" height="29" fill="#00bb00"/><rect x="669" y="215" width="9" height="23" fill="#00bb00"/>
<rect x="685" y="213" width="1" height="17" fill="#ee0000"/><rect x="681" y="216" width="9" height="4" fill="#ee0000"/>
<rect x="696" y="169" width="1" height="46" fill="#00bb00"/><rect x="692" y="172" width="9" height="43" fill="#00bb00"/>
<rect x="707" y="175" width="1" height="24" fill="#ee0000"/><rect x="703" y="176" width="9" height="16" fill="#ee0000"/>
<rect x="718" y="176" width="1" height="26" fill="#00bb00"/><rect x="714" y="195" width="9" height="7" fill="#00bb00"/>
<rect x="729" y="176" width="1" height="44" fill="#ee0000"/><rect x="725" y="201" width="9" height="8" fill="#ee0000"/>
<rect x="741" y="192" width="1" height="27" fill="#00bb00"/><rect x="737" y="195" width="9" height="14" fill="#00bb00"/>
<rect x="752" y="170" width="1" height="24" fill="#00bb00"/><rect x="748" y="175" width="9" height="18" fill="#00bb00"/>
<rect x="763" y="160" width="1" height="19" fill="#00bb00"/><rect x="759" y="166" width="9" height="4" fill="#00bb00"/>
<rect x="774" y="158" width="1" height="24" fill="#00bb00"/><rect x="770" y="161" width="9" height="6" fill="#00bb00"/>
<rect x="786" y="154" width="1" height="22" fill="#00bb00"/><rect x="782" y="156" width="9" height="6" fill="#00bb00"/>
<rect x="797" y="141" width="1" height="18" fill="#00bb00"/><rect x="793" y="151" width="9" height="2" fill="#00bb00"/>
<rect x="808" y="145" width="1" height="25" fill="#ee0000"/><rect x="804" y="158" width="9" height="2" fill="#ee0000"/>
<rect x="819" y="159" width="1" height="23" fill="#ee0000"/><rect x="815" y="159" width="9" height="21" fill="#ee0000"/>
<rect x="830" y="147" width="1" height="53" fill="#ee0000"/><rect x="826" y="178" width="9" height="8" fill="#ee0000"/>
<rect x="842" y="147" width="1" height="48" fill="#00bb00"/><rect x="838" y="185" width="9" height="8" fill="#00bb00"/>
<rect x="853" y="192" width="1" height="19" fill="#ee0000"/><rect x="849" y="192" width="9" height="12" fill="#ee0000"/>
<rect x="864" y="198" width="1" height="25" fill="#ee0000"/><rect x="860" y="203" width="9" height="2" fill="#ee0000"/>
<rect x="875" y="186" width="1" height="18" fill="#00bb00"/><rect x="871" y="198" width="9" height="2" fill="#00bb00"/>
<rect x="886" y="190" width="1" height="21" fill="#ee0000"/><rect x="882" y="196" width="9" height="5" fill="#ee0000"/>
<rect x="898" y="192" width="1" height="25" fill="#00bb00"/><rect x="894" y="198" width="9" height="2" fill="#00bb00"/>
<rect x="909" y="195" width="1" height="37" fill="#ee0000"/><rect x="905" y="198" width="9" height="22" fill="#ee0000"/>
<rect x="920" y="198" width="1" height="23" fill="#ee0000"/><rect x="916" y="216" width="9" height="2" fill="#ee0000"/>
<rect x="931" y="210" width="1" height="13" fill="#ee0000"/><rect x="927" y="217" width="9" height="2" fill="#ee0000"/>
<rect x="942" y="207" width="1" height="11" fill="#00bb00"/><rect x="938" y="216" width="9" height="2" fill="#00bb00"/>
<rect x="954" y="189" width="1" height="29" fill="#00bb00"/><rect x="950" y="195" width="9" height="23" fill="#00bb00"/>
<rect x="965" y="193" width="1" height="35" fill="#ee0000"/><rect x="961" y="204" width="9" height="12" fill="#ee0000"/>
<rect x="976" y="196" width="1" height="40" fill="#ee0000"/><rect x="972" y="216" width="9" height="14" fill="#ee0000"/>
<rect x="987" y="220" width="1" height="26" fill="#ee0000"/><rect x="983" y="227" width="9" height="13" fill="#ee0000"/>
<rect x="998" y="224" width="1" height="32" fill="#00bb00"/><rect x="994" y="236" width="9" height="6" fill="#00bb00"/>
<rect x="1010" y="212" width="1" height="28" fill="#00bb00"/><rect x="1006" y="215" width="9" height="19" fill="#00bb00"/>
<rect x="1021" y="215" width="1" height="29" fill="#ee0000"/><rect x="1017" y="216" width="9" height="10" fill="#ee0000"/>
<rect x="1032" y="226" width="1" height="16" fill="#ee0000"/><rect x="1028" y="227" width="9" height="15" fill="#ee0000"/>
<rect x="1043" y="239" width="1" height="17" fill="#ee0000"/><rect x="1039" y="239" width="9" height="13" fill="#ee0000"/>
<rect x="1054" y="239" width="1" height="18" fill="#ee0000"/><rect x="1050" y="251" width="9" height="2" fill="#ee0000"/>
<rect x="1066" y="216" width="1" height="36" fill="#00bb00"/><rect x="1062" y="240" width="9" height="8" fill="#00bb00"/>
<rect x="1077" y="230" width="1" height="28" fill="#ee0000"/><rect x="1073" y="239" width="9" height="16" fill="#ee0000"/>
<rect x="1088" y="239" width="1" height="33" fill="#ee0000"/><rect x="1084" y="263" width="9" height="8" fill="#ee0000"/>
<rect x="1099" y="251" width="1" height="39" fill="#ee0000"/><rect x="1095" y="261" width="9" height="22" fill="#ee0000"/>
<rect x="1110" y="247" width="1" height="43" fill="#00bb00"/><rect x="1106" y="283" width="9" height="6" fill="#00bb00"/>
<rect x="1122" y="277" width="1" height="39" fill="#ee0000"/><rect x="1118" y="288" width="9" height="26" fill="#ee0000"/>
<rect x="1133" y="277" width="1" height="94" fill="#ee0000"/><rect x="1129" y="306" width="9" height="41" fill="#ee0000"/>
<rect x="1144" y="311" width="1" height="60" fill="#ee0000"/><rect x="1140" y="345" width="9" height="19" fill="#ee0000"/>
<rect x="1155" y="368" width="1" height="48" fill="#ee0000"/><rect x="1151" y="370" width="9" height="21" fill="#ee0000"/>
<rect x="1167" y="328" width="1" height="114" fill="#ee0000"/><rect x="1163" y="387" width="9" height="39" fill="#ee0000"/>
<rect x="1178" y="335" width="1" height="123" fill="#ee0000"/><rect x="1174" y="396" width="9" height="46" fill="#ee0000"/>
<rect x="1189" y="403" width="1" height="79" fill="#ee0000"/><rect x="1185" y="450" width="9" height="9" fill="#ee0000"/>
<rect x="1200" y="436" width="1" height="28" fill="#00bb00"/><rect x="1196" y="453" width="9" height="4" fill="#00bb00"/>
<rect x="1211" y="415" width="1" height="63" fill="#00bb00"/><rect x="1207" y="416" width="9" height="27" fill="#00bb00"/>
<rect x="1223" y="368" width="1" height="46" fill="#00bb00"/><rect x="1219" y="372" width="9" height="42" fill="#00bb00"/>
<rect x="1234" y="350" width="1" height="40" fill="#ee0000"/><rect x="1230" y="370" width="9" height="15" fill="#ee0000"/>
<rect x="1245" y="387" width="1" height="21" fill="#00bb00"/><rect x="1241" y="389" width="9" height="13" fill="#00bb00"/>
<rect x="1256" y="285" width="1" height="105" fill="#00bb00"/><rect x="1252" y="292" width="9" height="85" fill="#00bb00"/>
<rect x="1267" y="288" width="1" height="70" fill="#ee0000"/><rect x="1263" y="326" width="9" height="23" fill="#ee0000"/>
<rect x="1279" y="288" width="1" height="102" fill="#ee0000"/><rect x="1275" y="350" width="9" height="32" fill="#ee0000"/>
<rect x="1290" y="288" width="1" height="101" fill="#ee0000"/><rect x="1286" y="383" width="9" height="2" fill="#ee0000"/>
<rect x="1301" y="288" width="1" height="96" fill="#00bb00"/><rect x="1297" y="372" width="9" height="10" fill="#00bb00"/>
<rect x="1312" y="333" width="1" height="42" fill="#00bb00"/><rect x="1308" y="368" width="9" height="3" fill="#00bb00"/>
<rect x="1323" y="285" width="1" height="92" fill="#00bb00"/><rect x="1319" y="342" width="9" height="30" fill="#00bb00"/>
<rect x="1335" y="320" width="1" height="19" fill="#00bb00"/><rect x="1331" y="324" width="9" height="2" fill="#00bb00"/>
<rect x="1346" y="269" width="1" height="90" fill="#00bb00"/><rect x="1342" y="271" width="9" height="56" fill="#00bb00"/>
<rect x="1357" y="271" width="1" height="68" fill="#ee0000"/><rect x="1353" y="298" width="9" height="21" fill="#ee0000"/>
<rect x="1368" y="268" width="1" height="72" fill="#ee0000"/><rect x="1364" y="319" width="9" height="13" fill="#ee0000"/>
<rect x="1379" y="275" width="1" height="74" fill="#00bb00"/><rect x="1375" y="305" width="9" height="21" fill="#00bb00"/>
<rect x="1391" y="257" width="1" height="79" fill="#ee0000"/><rect x="1387" y="288" width="9" height="4" fill="#ee0000"/>
<rect x="1402" y="263" width="1" height="25" fill="#00bb00"/><rect x="1398" y="265" width="9" height="23" fill="#00bb00"/>
<rect x="1413" y="251" width="1" height="23" fill="#00bb00"/><rect x="1409" y="252" width="9" height="14" fill="#00bb00"/>
<rect x="1424" y="189" width="1" height="65" fill="#00bb00"/><rect x="1420" y="234" width="9" height="19" fill="#00bb00"/>
<rect x="1435" y="204" width="1" height="60" fill="#ee0000"/><rect x="1431" y="227" width="9" height="27" fill="#ee0000"/>
<rect x="1447" y="252" width="1" height="27" fill="#ee0000"/><rect x="1443" y="260" width="9" height="19" fill="#ee0000"/>
<rect x="1458" y="275" width="1" height="29" fill="#ee0000"/><rect x="1454" y="291" width="9" height="10" fill="#ee0000"/>
<rect x="1469" y="269" width="1" height="32" fill="#00bb00"/><rect x="1465" y="269" width="9" height="32" fill="#00bb00"/>
</g>
<ellipse cx="1478" cy="296.500" rx="32.500" ry="42.500" fill="none" stroke="#000" stroke-width="5"/>
<line x1="1087.5" y1="387.5" x2="1537" y2="126.5" stroke="#ff2020" stroke-width="1.2"/>
<line x1="1184.5" y1="463.5" x2="1577" y2="238.5" stroke="#ff2020" stroke-width="1.2"/>
<rect x="16.5" y="127.5" width="401" height="14" fill="#fff6c9" stroke="#3366cc" stroke-width="1" shape-rendering="crispEdges"/>
<text xml:space="preserve" x="20.5 26.5 33.5 40.5 43.5 46.5 54.5 60.5 66.5 72.5 75.5 78.5 84.5 90.5 93.5 99.5 105.5 111.5 114.5 120.5 126.5 129.5 132.5 139.5 141.5 147.5 153.5 156.5 159.5 165.5 171.5 174.5 180.5 186.5 192.5 195.5 201.5 207.5 210.5 213.5 219.5 225.5 233.5 236.5 239.5 245.5 251.5 254.5 260.5 266.5 272.5 275.5 281.5 287.5 290.5 293.5 300.5 302.5 308.5 313.5 319.5 322.5 325.5 331.5 337.5 340.5 346.5 352.5 358.5 361.5 367.5 373.5 376.5 379.5 382.5 388.5 394.5 397.5 403.5 412.5" y="138" font-size="10" fill="#000" font-family='"Liberation Sans", Arial, sans-serif'>LAN [Open: 13.100,00  High: 13.350,00  Low: 13.100,00  Close: 13.350,00] (+1,9%)</text>
<line x1="1514.5" y1="192.5" x2="1518" y2="192.5" stroke="#3366cc" stroke-width="1" shape-rendering="crispEdges"/>
<text xml:space="preserve" x="1520.5 1526.5 1532.5 1535.5 1541.5 1547.5 1553.5 1556.5 1562.5" y="196.1" font-size="10" fill="#000" font-family='"Liberation Sans", Arial, sans-serif'>14.000,00</text>
<line x1="1514.5" y1="251.5" x2="1518" y2="251.5" stroke="#3366cc" stroke-width="1" shape-rendering="crispEdges"/>
<text xml:space="preserve" x="1520.5 1526.5 1532.5 1535.5 1541.5 1547.5 1553.5 1556.5 1562.5" y="255.1" font-size="10" fill="#000" font-family='"Liberation Sans", Arial, sans-serif'>13.500,00</text>
<line x1="1514.5" y1="313.5" x2="1518" y2="313.5" stroke="#3366cc" stroke-width="1" shape-rendering="crispEdges"/>
<text xml:space="preserve" x="1520.5 1526.5 1532.5 1535.5 1541.5 1547.5 1553.5 1556.5 1562.5" y="317.1" font-size="10" fill="#000" font-family='"Liberation Sans", Arial, sans-serif'>13.000,00</text>
<line x1="1514.5" y1="376.5" x2="1518" y2="376.5" stroke="#3366cc" stroke-width="1" shape-rendering="crispEdges"/>
<text xml:space="preserve" x="1520.5 1526.5 1532.5 1535.5 1541.5 1547.5 1553.5 1556.5 1562.5" y="380.1" font-size="10" fill="#000" font-family='"Liberation Sans", Arial, sans-serif'>12.500,00</text>
<line x1="1514.5" y1="442.5" x2="1518" y2="442.5" stroke="#3366cc" stroke-width="1" shape-rendering="crispEdges"/>
<text xml:space="preserve" x="1520.5 1526.5 1532.5 1535.5 1541.5 1547.5 1553.5 1556.5 1562.5" y="446.1" font-size="10" fill="#000" font-family='"Liberation Sans", Arial, sans-serif'>12.000,00</text>
<line x1="1515" y1="302" x2="1520" y2="302" stroke="#ee0000" stroke-width="1"/>
<line x1="1515" y1="300" x2="1520.5" y2="288" stroke="#ee0000" stroke-width="1"/>
<line x1="1515" y1="347.5" x2="1520" y2="347.5" stroke="#ff00ff" stroke-width="1"/>
<line x1="1515" y1="368" x2="1520.5" y2="362" stroke="#3366ff" stroke-width="1"/>
<rect x="1520.5" y="281.5" width="54" height="14" fill="#ffffff" stroke="#3366cc" stroke-width="1" shape-rendering="crispEdges"/>
<text xml:space="preserve" x="1524 1530 1536 1539 1545 1551 1557 1560 1566" y="292.4" font-size="10" fill="#ee0000" font-family='"Liberation Sans", Arial, sans-serif'>13.105,87</text>
<rect x="1520.5" y="295.5" width="54" height="14" fill="#ffffff" stroke="#3366cc" stroke-width="1" shape-rendering="crispEdges"/>
<text xml:space="preserve" x="1524 1530 1536 1539 1545 1551 1557 1560 1566" y="306.4" font-size="10" fill="#ee0000" font-family='"Liberation Sans", Arial, sans-serif'>13.086,00</text>
<rect x="1520.5" y="340.5" width="54" height="14" fill="#ffffff" stroke="#3366cc" stroke-width="1" shape-rendering="crispEdges"/>
<text xml:space="preserve" x="1524 1530 1536 1539 1545 1551 1557 1560 1566" y="351.4" font-size="10" fill="#ff00ff" font-family='"Liberation Sans", Arial, sans-serif'>12.729,47</text>
<rect x="1520.5" y="355.5" width="54" height="14" fill="#ffffff" stroke="#3366cc" stroke-width="1" shape-rendering="crispEdges"/>
<text xml:space="preserve" x="1524 1530 1536 1539 1545 1551 1557 1560 1566" y="366.4" font-size="10" fill="#3366ff" font-family='"Liberation Sans", Arial, sans-serif'>12.555,20</text>
<rect x="1520.5" y="419.5" width="54" height="14" fill="#dfe0dd" stroke="#c2c2c2" stroke-width="1" shape-rendering="crispEdges"/>
<text xml:space="preserve" x="1524 1530 1536 1539 1545 1551 1557 1560 1566" y="430.4" font-size="10" fill="#000" font-family='"Liberation Sans", Arial, sans-serif'>12.121,55</text>
<text xml:space="preserve" x="54.5 60.5 66.5 72.5 75.5 81.5 84.5 87.5 93.5 99.5 105.5" y="502.3" font-size="10" fill="#000" font-family='"Liberation Sans", Arial, sans-serif'>ene 2, 2012</text>
<text xml:space="preserve" x="301.3 304.3 310.3 316.3 319.3 325.3 328.3 331.3 337.3 343.3 349.3" y="502.3" font-size="10" fill="#000" font-family='"Liberation Sans", Arial, sans-serif'>feb 1, 2012</text>
<text xml:space="preserve" x="783.8 789.8 795.8 798.8 801.8 807.8 810.8 813.8 819.8 825.8 831.8" y="502.3" font-size="10" fill="#000" font-family='"Liberation Sans", Arial, sans-serif'>abr 2, 2012</text>
<text xml:space="preserve" x="1000.8 1008.8 1014.8 1019.8 1022.8 1028.8 1031.8 1034.8 1040.8 1046.8 1052.8" y="502.3" font-size="10" fill="#000" font-family='"Liberation Sans", Arial, sans-serif'>may 1, 2012</text>
<text xml:space="preserve" x="1242.5 1244.5 1250.5 1256.5 1259.5 1265.5 1268.5 1271.5 1277.5 1283.5 1289.5" y="502.3" font-size="10" fill="#000" font-family='"Liberation Sans", Arial, sans-serif'>jun 1, 2012</text>
<text xml:space="preserve" x="535.8 543.8 549.8 552.8 555.8 561.8 564.8 567.8 573.8 579.8 585.8" y="502.3" font-size="10" fill="#000" font-family='"Liberation Sans", Arial, sans-serif'>mar 1, 2012</text>
<rect x="542.5" y="491.5" width="63" height="14" fill="#ffffff" stroke="#3366cc" shape-rendering="crispEdges"/>
<text xml:space="preserve" x="547 555 561 564 567 573 576 579 585 591 597" y="502.3" font-size="10" fill="#008000" font-family='"Liberation Sans", Arial, sans-serif'>mar 2, 2012</text>
<rect x="16.5" y="507.5" width="1498.0" height="103.0" fill="#ffffff" stroke="#3366cc" shape-rendering="crispEdges"/>
<line x1="80.5" y1="508" x2="80.5" y2="610" stroke="#d2d2d2" stroke-width="1" shape-rendering="crispEdges"/>
<line x1="326.5" y1="508" x2="326.5" y2="610" stroke="#d2d2d2" stroke-width="1" shape-rendering="crispEdges"/>
<line x1="561.5" y1="508" x2="561.5" y2="610" stroke="#d2d2d2" stroke-width="1" shape-rendering="crispEdges"/>
<line x1="808.5" y1="508" x2="808.5" y2="610" stroke="#d2d2d2" stroke-width="1" shape-rendering="crispEdges"/>
<line x1="1027.5" y1="508" x2="1027.5" y2="610" stroke="#d2d2d2" stroke-width="1" shape-rendering="crispEdges"/>
<line x1="1267.5" y1="508" x2="1267.5" y2="610" stroke="#d2d2d2" stroke-width="1" shape-rendering="crispEdges"/>
<line x1="573.5" y1="508" x2="573.5" y2="610" stroke="#b4b4b4" stroke-width="1" shape-rendering="crispEdges"/>
<line x1="17" y1="556.5" x2="1514" y2="556.5" stroke="#d2d2d2" stroke-width="1" shape-rendering="crispEdges"/>
<line x1="17" y1="575.5" x2="1514" y2="575.5" stroke="#d2d2d2" stroke-width="1" shape-rendering="crispEdges"/>
<line x1="45" y1="538.5" x2="1470" y2="538.5" stroke="#000" stroke-width="1" shape-rendering="crispEdges"/>
<line x1="45" y1="594.5" x2="1470" y2="594.5" stroke="#000" stroke-width="1" shape-rendering="crispEdges"/>
<polyline points="46.25,554.25 68.75,565 91.25,571.25 113.75,575 125,577.5 136.25,582 147.5,586.25 158.75,590 169.5,585 180.5,574.25 192,565 203.75,560.25 214.5,558 225.75,555.25 237,555.5 248.25,557 260,560.5 271.25,562.5 282.5,563.75 293.75,563.75 304.5,563.75 315.5,563.25 326.25,561.25 337.5,559.25 349.25,554.25 360.25,550.25 371.25,547 382.5,545.5 393.75,543 405.5,542 416.5,537.5 438.5,531.25 449.5,529 461.5,526.25 472.5,526.25 483.75,528.75 494.5,531.25 505.5,535 517,538.75 528.25,544.5 538.75,548.25 550,550.25 561.25,550.75 572.5,551.25 584.5,554.5 595.5,561.25 606.5,567.25 617.5,569.5 628.75,565 640,555 651.25,546.25 662.5,539.25 673.75,533.25 685,529.5 696.25,527.5 707.5,527.5 718.75,528.75 729.5,531.25 741.25,533.75 752.5,533.75 763.25,530.75 774.5,528 786.25,526.25 800,523.75 808.75,525.75 820,530 830.5,535.75 842,543.75 853.25,554.25 864.5,564.25 875.75,573.75 887,578.75 898.25,581.25 909.5,584.5 920.75,588.25 932,591.25 942.5,593.75 953.75,593 965,592 976.5,593 987.5,596.25 998.75,598.75 1010.75,595 1022,589.25 1032.5,584.25 1043.75,587.5 1055,592.5 1066.25,595 1077.5,597 1088.75,599.25 1100,602.5 1111.25,604.5 1122.5,605.5 1133.75,606.5 1144.5,607 1155.75,606.25 1167.5,606.25 1178.75,605.75 1190,605.75 1200,605.75 1211.25,604.5 1223.25,600 1234.5,593.75 1245.5,588.75 1257,580 1268,573.25 1279.5,567.5 1290.5,567.5 1301.25,567.5 1312.5,566.25 1324.25,561.75 1335.5,558.25 1346.5,550.75 1357.5,545.5 1368.75,542.5 1380,542.5 1391.25,543 1402.5,541.25 1413.75,536.25 1424.5,534.5 1436.25,535.75 1447.5,542.5 1458.75,548.25 1469.5,553.25" fill="none" stroke="#ffaa22" stroke-width="1.1" stroke-linejoin="round" stroke-linecap="round" />
<polyline points="46.25,568.75 68.75,574.5 80,574.5 91.25,577.25 102.5,577.25 113.75,578.25 125,581.25 136.25,590 147.5,597.5 158.75,592.5 169.5,572.5 180.5,552.5 192,547.5 203.75,552 214.5,553.25 225.75,550.25 237,555.5 248.25,560.5 260,566.25 271.25,566.25 282.5,565 293.75,565 304.5,564 315.5,562.25 326.25,558.25 337.5,553.75 349.25,543.25 360.25,543 371.25,539.25 382.5,545.5 393.75,538 405.5,538.25 416.5,528.5 427.5,528.25 438.5,524.25 449.5,525.25 461.5,522.25 472.5,526.75 483.75,533.75 494.5,537.5 505.5,542.5 517,546.25 528.25,556.25 538.75,556.25 550,554.5 561.25,550.25 572.5,553 584.5,561.75 595.5,573.25 606.5,580.25 617.5,573.75 628.75,557.5 640,538 651.25,528.25 662.5,523.25 673.75,521.25 685,522 696.25,522 707.5,526.75 718.75,530.75 729.5,537 741.25,538.25 752.5,534.5 763.25,527.5 774.5,522 786.25,521 797.5,522 808.75,526.25 820,536.75 830.5,548.75 842,560 853.25,574.5 864.5,584.5 875.75,591.25 887,589.25 898.25,587.25 909.5,591 920.75,594 932,599.5 942.5,598.25 953.75,591.25 965,590.25 976.5,592 987.5,603.25 998.75,603.25 1010.75,587.75 1022,577.25 1032.5,576.25 1043.75,592.5 1055,603.25 1066.25,601.25 1077.5,601.25 1088.75,603.25 1100,608 1111.25,608.25 1122.5,608.25 1133.75,606 1144.5,607 1155.75,604.25 1167.5,606.25 1178.75,605.25 1190,606.25 1200,605.5 1211.25,600 1223.25,590 1234.5,582.5 1245.5,577.25 1257,565 1268,559.25 1279.5,556.25 1290.5,566.25 1301.25,566.25 1312.5,564.25 1324.25,555.75 1335.5,548.25 1346.5,535.25 1357.5,533.25 1368.75,536.5 1380,544.25 1391.25,544.25 1402.5,536.25 1413.75,528.25 1424.5,528.25 1436.25,537.5 1447.5,551.25 1458.75,562.5 1469.5,566.25" fill="none" stroke="#0a0acc" stroke-width="2.3" stroke-linejoin="round" stroke-linecap="round" />
<line x1="505.5" y1="526" x2="505.5" y2="542.5" stroke="#ee0000" stroke-width="1" shape-rendering="crispEdges"/>
<path d="M502,522 h7 l-3.5,7 Z" fill="#ee0000"/>
<line x1="741.25" y1="526" x2="741.25" y2="538.25" stroke="#ee0000" stroke-width="1" shape-rendering="crispEdges"/>
<path d="M737.75,522 h7 l-3.5,7 Z" fill="#ee0000"/>
<line x1="830.5" y1="526" x2="830.5" y2="548.75" stroke="#ee0000" stroke-width="1" shape-rendering="crispEdges"/>
<path d="M827,522 h7 l-3.5,7 Z" fill="#ee0000"/>
<line x1="1379.5" y1="526" x2="1379.5" y2="544.25" stroke="#ee0000" stroke-width="1" shape-rendering="crispEdges"/>
<path d="M1376,522 h7 l-3.5,7 Z" fill="#ee0000"/>
<line x1="1447.5" y1="526" x2="1447.5" y2="551.25" stroke="#ee0000" stroke-width="1" shape-rendering="crispEdges"/>
<path d="M1444,522 h7 l-3.5,7 Z" fill="#ee0000"/>
<line x1="158.75" y1="592.5" x2="158.75" y2="606" stroke="#00cc22" stroke-width="1" shape-rendering="crispEdges"/>
<path d="M155.25,610 h7 l-3.5,-7 Z" fill="#00cc22"/>
<line x1="954.5" y1="591.25" x2="954.5" y2="606" stroke="#00cc22" stroke-width="1" shape-rendering="crispEdges"/>
<path d="M951,610 h7 l-3.5,-7 Z" fill="#00cc22"/>
<line x1="1010.75" y1="588.25" x2="1010.75" y2="606" stroke="#00cc22" stroke-width="1" shape-rendering="crispEdges"/>
<path d="M1007.25,610 h7 l-3.5,-7 Z" fill="#00cc22"/>
<line x1="1223.25" y1="590" x2="1223.25" y2="606" stroke="#00cc22" stroke-width="1" shape-rendering="crispEdges"/>
<path d="M1219.75,610 h7 l-3.5,-7 Z" fill="#00cc22"/>
<rect x="16.5" y="507.5" width="161" height="14" fill="#fff6c9" stroke="#3366cc" stroke-width="1" shape-rendering="crispEdges"/>
<text xml:space="preserve" x="20.5 27.5 33.5 40.5 43.5 46.5 49.5 56.5 59.5 65.5 70.5 76.5 82.5 87.5 90.5 92.5 97.5 100.5 103.5 109.5 115.5 118.5 124.5 127.5 133.5 136.5 139.5 142.5 148.5 154.5 157.5 163.5 169.5" y="517.7" font-size="10" fill="#000" font-family='"Liberation Sans", Arial, sans-serif'>STS - Stochastic (15,3,5) [50,21]</text>
<line x1="1514.5" y1="538.5" x2="1518" y2="538.5" stroke="#3366cc" stroke-width="1" shape-rendering="crispEdges"/>
<text xml:space="preserve" x="1520.5 1526.5" y="542.1" font-size="10" fill="#000" font-family='"Liberation Sans", Arial, sans-serif'>80</text>
<line x1="1514.5" y1="575.5" x2="1518" y2="575.5" stroke="#3366cc" stroke-width="1" shape-rendering="crispEdges"/>
<text xml:space="preserve" x="1520.5 1526.5" y="579.1" font-size="10" fill="#000" font-family='"Liberation Sans", Arial, sans-serif'>40</text>
<line x1="1514.5" y1="594.5" x2="1518" y2="594.5" stroke="#3366cc" stroke-width="1" shape-rendering="crispEdges"/>
<text xml:space="preserve" x="1520.5 1526.5" y="598.1" font-size="10" fill="#000" font-family='"Liberation Sans", Arial, sans-serif'>20</text>
<line x1="1515" y1="551" x2="1520.5" y2="545" stroke="#ffaa22" stroke-width="1"/>
<line x1="1515" y1="553" x2="1520.5" y2="560" stroke="#0a0acc" stroke-width="1"/>
<rect x="1520.5" y="538.5" width="33" height="14" fill="#ffffff" stroke="#3366cc" stroke-width="1" shape-rendering="crispEdges"/>
<text xml:space="preserve" x="1524 1530 1536 1539 1545" y="549.4" font-size="10" fill="#ffaa00" font-family='"Liberation Sans", Arial, sans-serif'>65,77</text>
<rect x="1520.5" y="553.5" width="33" height="14" fill="#ffffff" stroke="#3366cc" stroke-width="1" shape-rendering="crispEdges"/>
<text xml:space="preserve" x="1524 1530 1536 1539 1545" y="564.4" font-size="10" fill="#0000dd" font-family='"Liberation Sans", Arial, sans-serif'>63,94</text>
<rect x="1573.5" y="508.5" width="13" height="13" rx="1.6" fill="#c9c9c9" stroke="#000" stroke-width="1.15"/>
<rect x="1574.5" y="509.5" width="11" height="11" fill="none" stroke="#d9d9d9" stroke-width="1"/>
<path d="M1576,511 L1584,519 M1584,511 L1576,519" stroke="#000" stroke-width="1.1"/>
<rect x="16.5" y="612.5" width="1498.0" height="103.0" fill="#ffffff" stroke="#3366cc" shape-rendering="crispEdges"/>
<line x1="80.5" y1="613" x2="80.5" y2="715" stroke="#d2d2d2" stroke-width="1" shape-rendering="crispEdges"/>
<line x1="326.5" y1="613" x2="326.5" y2="715" stroke="#d2d2d2" stroke-width="1" shape-rendering="crispEdges"/>
<line x1="561.5" y1="613" x2="561.5" y2="715" stroke="#d2d2d2" stroke-width="1" shape-rendering="crispEdges"/>
<line x1="808.5" y1="613" x2="808.5" y2="715" stroke="#d2d2d2" stroke-width="1" shape-rendering="crispEdges"/>
<line x1="1027.5" y1="613" x2="1027.5" y2="715" stroke="#d2d2d2" stroke-width="1" shape-rendering="crispEdges"/>
<line x1="1267.5" y1="613" x2="1267.5" y2="715" stroke="#d2d2d2" stroke-width="1" shape-rendering="crispEdges"/>
<line x1="573.5" y1="613" x2="573.5" y2="715" stroke="#b4b4b4" stroke-width="1" shape-rendering="crispEdges"/>
<line x1="17" y1="642.5" x2="1514" y2="642.5" stroke="#d2d2d2" stroke-width="1" shape-rendering="crispEdges"/>
<line x1="17" y1="685.5" x2="1514" y2="685.5" stroke="#d2d2d2" stroke-width="1" shape-rendering="crispEdges"/>
<line x1="17" y1="707.5" x2="1514" y2="707.5" stroke="#d2d2d2" stroke-width="1" shape-rendering="crispEdges"/>
<g shape-rendering="crispEdges" fill="#00960a">
<rect x="55" y="664" width="5" height="1"/>
<rect x="66" y="664" width="5" height="1"/>
<rect x="78" y="664" width="5" height="2"/>
<rect x="89" y="664" width="5" height="2"/>
<rect x="100" y="664" width="5" height="2"/>
<rect x="111" y="664" width="5" height="2"/>
<rect x="122" y="664" width="5" height="2"/>
<rect x="134" y="664" width="5" height="3"/>
<rect x="145" y="664" width="5" height="4"/>
<rect x="156" y="664" width="5" height="3"/>
<rect x="167" y="664" width="5" height="1"/>
<rect x="190" y="662" width="5" height="1"/>
<rect x="201" y="662" width="5" height="1"/>
<rect x="212" y="662" width="5" height="1"/>
<rect x="223" y="661" width="5" height="2"/>
<rect x="234" y="662" width="5" height="1"/>
<rect x="335" y="662" width="5" height="1"/>
<rect x="347" y="661" width="5" height="2"/>
<rect x="358" y="662" width="5" height="1"/>
<rect x="369" y="661" width="5" height="2"/>
<rect x="380" y="662" width="5" height="1"/>
<rect x="391" y="661" width="5" height="2"/>
<rect x="403" y="662" width="5" height="1"/>
<rect x="414" y="660" width="5" height="3"/>
<rect x="425" y="658" width="5" height="5"/>
<rect x="436" y="657" width="5" height="6"/>
<rect x="447" y="655" width="5" height="8"/>
<rect x="459" y="653" width="5" height="10"/>
<rect x="470" y="653" width="5" height="10"/>
<rect x="481" y="655" width="5" height="8"/>
<rect x="492" y="656" width="5" height="7"/>
<rect x="503" y="658" width="5" height="5"/>
<rect x="515" y="661" width="5" height="2"/>
<rect x="548" y="664" width="5" height="2"/>
<rect x="559" y="664" width="5" height="2"/>
<rect x="571" y="664" width="5" height="3"/>
<rect x="582" y="664" width="5" height="4"/>
<rect x="593" y="664" width="5" height="4"/>
<rect x="604" y="664" width="5" height="4"/>
<rect x="615" y="664" width="5" height="2"/>
<rect x="660" y="661" width="5" height="2"/>
<rect x="671" y="659" width="5" height="4"/>
<rect x="683" y="659" width="5" height="4"/>
<rect x="694" y="656" width="5" height="7"/>
<rect x="705" y="656" width="5" height="7"/>
<rect x="716" y="657" width="5" height="6"/>
<rect x="727" y="659" width="5" height="4"/>
<rect x="739" y="660" width="5" height="3"/>
<rect x="750" y="659" width="5" height="4"/>
<rect x="761" y="659" width="5" height="4"/>
<rect x="772" y="659" width="5" height="4"/>
<rect x="784" y="660" width="5" height="3"/>
<rect x="795" y="660" width="5" height="3"/>
<rect x="806" y="661" width="5" height="2"/>
<rect x="828" y="664" width="5" height="2"/>
<rect x="840" y="664" width="5" height="4"/>
<rect x="851" y="664" width="5" height="6"/>
<rect x="862" y="664" width="5" height="8"/>
<rect x="873" y="664" width="5" height="8"/>
<rect x="884" y="664" width="5" height="8"/>
<rect x="896" y="664" width="5" height="8"/>
<rect x="907" y="664" width="5" height="8"/>
<rect x="918" y="664" width="5" height="8"/>
<rect x="929" y="664" width="5" height="8"/>
<rect x="940" y="664" width="5" height="8"/>
<rect x="952" y="664" width="5" height="6"/>
<rect x="963" y="664" width="5" height="6"/>
<rect x="974" y="664" width="5" height="6"/>
<rect x="985" y="664" width="5" height="8"/>
<rect x="996" y="664" width="5" height="8"/>
<rect x="1008" y="664" width="5" height="6"/>
<rect x="1019" y="664" width="5" height="4"/>
<rect x="1030" y="664" width="5" height="6"/>
<rect x="1041" y="664" width="5" height="4"/>
<rect x="1052" y="664" width="5" height="6"/>
<rect x="1064" y="664" width="5" height="4"/>
<rect x="1075" y="664" width="5" height="4"/>
<rect x="1086" y="664" width="5" height="6"/>
<rect x="1097" y="664" width="5" height="6"/>
<rect x="1108" y="664" width="5" height="6"/>
<rect x="1120" y="664" width="5" height="8"/>
<rect x="1131" y="664" width="5" height="10"/>
<rect x="1142" y="664" width="5" height="12"/>
<rect x="1153" y="664" width="5" height="14"/>
<rect x="1165" y="664" width="5" height="16"/>
<rect x="1176" y="664" width="5" height="16"/>
<rect x="1187" y="664" width="5" height="16"/>
<rect x="1198" y="664" width="5" height="16"/>
<rect x="1209" y="664" width="5" height="12"/>
<rect x="1221" y="664" width="5" height="6"/>
<rect x="1232" y="664" width="5" height="2"/>
<rect x="1254" y="656" width="5" height="7"/>
<rect x="1265" y="655" width="5" height="8"/>
<rect x="1277" y="656" width="5" height="7"/>
<rect x="1288" y="657" width="5" height="6"/>
<rect x="1299" y="657" width="5" height="6"/>
<rect x="1310" y="657" width="5" height="6"/>
<rect x="1321" y="655" width="5" height="8"/>
<rect x="1333" y="654" width="5" height="9"/>
<rect x="1344" y="650" width="5" height="13"/>
<rect x="1355" y="651" width="5" height="12"/>
<rect x="1366" y="652" width="5" height="11"/>
<rect x="1377" y="652" width="5" height="11"/>
<rect x="1389" y="652" width="5" height="11"/>
<rect x="1400" y="651" width="5" height="12"/>
<rect x="1411" y="650" width="5" height="13"/>
<rect x="1422" y="649" width="5" height="14"/>
<rect x="1433" y="651" width="5" height="12"/>
<rect x="1445" y="653" width="5" height="10"/>
<rect x="1456" y="657" width="5" height="6"/>
<rect x="1467" y="658" width="5" height="5"/>
</g>
<line x1="45" y1="663.5" x2="1472" y2="663.5" stroke="#000" stroke-width="1" shape-rendering="crispEdges"/>
<polyline points="46.25,655 80,656.75 113.75,658.25 147.5,661.25 170,662.5 192.5,662 225,660 259.25,659.5 282.5,660 315,660.75 337.5,660 360.25,658.75 393.75,658 400,658.25 425,655 450,650 475,645 505,640.25 530,640.25 550,640.5 575,642 605,644.25 625,644.5 651.25,644 662.5,644.25 685,642.5 717.5,637 750,633.75 775,631.25 800,629.25 825,629.25 842.5,630.5 875,637 912.5,643.75 950,650.5 980,654.25 1010,659.5 1040,663 1070,666.25 1100,670.5 1125,673.75 1150,679.25 1170,685.75 1187.5,693.25 1200,697.5 1215,701.25 1235,703.25 1256.5,700.75 1280,697.5 1312.5,692.5 1335.5,688.25 1357.5,681.25 1379.5,676.25 1402.5,670.5 1424.5,663.75 1447.5,657.5 1469.5,654.5" fill="none" stroke="#ffaa22" stroke-width="1.1" stroke-linejoin="round" stroke-linecap="round" />
<polyline points="46.25,656.25 68.75,657.5 80,658.75 102.5,660 125,662 136.25,663.75 147.5,665 158.75,665 170,663 180.5,661.25 203.75,659.5 225,658.25 237,659 259.25,659.5 282.5,661.25 315,661.25 326.25,660.25 337.5,659.5 349.25,657.75 360.25,657.5 371.25,656.5 393.75,656.25 400,656.25 415,653.25 427.5,650 445,643.75 461.5,637 472.5,635.25 483.5,635.25 494.5,634.25 505.5,635.25 517.5,637.5 530,640.75 550,642 561.5,642 573.5,644.25 584.5,645.75 595.5,647.5 606.5,648.25 617.5,647 630,645 640,645 651.25,644 662.5,642 673.5,639.25 685.5,637 696.5,632 707.5,630.25 718.5,630.25 741.5,630 763.5,628.25 786.5,626.25 800,626.75 808.75,628.25 820,630.75 842.5,634.5 865,641.25 887.5,646.25 910,651.25 932.5,655.75 942.5,657.5 955,657.5 975,660.5 987.5,663.75 1010,664.25 1032.5,666.25 1055,670.5 1070,670.75 1087.5,673.25 1110,677 1125,681.25 1150,693.75 1175,705.75 1190,711.25 1200,713.5 1211.25,712.5 1223.25,708 1234.5,706.25 1245.5,703.25 1256.5,694.25 1267.5,691.75 1290.5,689.5 1312.5,686.25 1335.5,678.25 1346.5,671.25 1357.5,668 1379.5,665 1391.5,662 1402.5,657 1413.5,653 1424.5,649.5 1435.5,647.5 1447.5,647.5 1458.5,649.5 1469.5,649.5" fill="none" stroke="#0a0acc" stroke-width="2.3" stroke-linejoin="round" stroke-linecap="round" />
<line x1="46.25" y1="631" x2="46.25" y2="656.25" stroke="#ee0000" stroke-width="1" shape-rendering="crispEdges"/>
<path d="M42.75,627 h7 l-3.5,7 Z" fill="#ee0000"/>
<line x1="259.25" y1="631" x2="259.25" y2="660.5" stroke="#ee0000" stroke-width="1" shape-rendering="crispEdges"/>
<path d="M255.75,627 h7 l-3.5,7 Z" fill="#ee0000"/>
<line x1="528.25" y1="631" x2="528.25" y2="640.75" stroke="#ee0000" stroke-width="1" shape-rendering="crispEdges"/>
<path d="M524.75,627 h7 l-3.5,7 Z" fill="#ee0000"/>
<line x1="819.5" y1="631" x2="819.5" y2="634" stroke="#ee0000" stroke-width="1" shape-rendering="crispEdges"/>
<path d="M816,627 h7 l-3.5,7 Z" fill="#ee0000"/>
<line x1="180.5" y1="662" x2="180.5" y2="711" stroke="#00cc22" stroke-width="1" shape-rendering="crispEdges"/>
<path d="M177,715 h7 l-3.5,-7 Z" fill="#00cc22"/>
<line x1="326.25" y1="660.5" x2="326.25" y2="711" stroke="#00cc22" stroke-width="1" shape-rendering="crispEdges"/>
<path d="M322.75,715 h7 l-3.5,-7 Z" fill="#00cc22"/>
<line x1="651.25" y1="644" x2="651.25" y2="711" stroke="#00cc22" stroke-width="1" shape-rendering="crispEdges"/>
<path d="M647.75,715 h7 l-3.5,-7 Z" fill="#00cc22"/>
<line x1="1256.5" y1="693.75" x2="1256.5" y2="711" stroke="#00cc22" stroke-width="1" shape-rendering="crispEdges"/>
<path d="M1253,715 h7 l-3.5,-7 Z" fill="#00cc22"/>
<rect x="16.5" y="612.5" width="260" height="14" fill="#fff6c9" stroke="#3366cc" stroke-width="1" shape-rendering="crispEdges"/>
<text xml:space="preserve" x="20.5 29.5 36.5 43.5 50.5 53.5 56.5 59.5 68.5 74.5 79.5 81.5 87.5 93.5 96.5 103.5 108.5 114.5 117.5 123.5 129.5 135.5 138.5 145.5 151.5 157.5 162.5 165.5 168.5 175.5 177.5 182.5 185.5 188.5 191.5 197.5 203.5 206.5 212.5 218.5 221.5 227.5 230.5 233.5 236.5 242.5 248.5 254.5 257.5 263.5 269.5" y="623" font-size="10" fill="#000" font-family='"Liberation Sans", Arial, sans-serif'>MACD - Moving Average Conv. Div. (12,26,9) [132,23]</text>
<line x1="1514.5" y1="685.5" x2="1518" y2="685.5" stroke="#3366cc" stroke-width="1" shape-rendering="crispEdges"/>
<text xml:space="preserve" x="1520.5 1523.5 1529.5 1535.5" y="689.1" font-size="10" fill="#000" font-family='"Liberation Sans", Arial, sans-serif'>-200</text>
<line x1="1514.5" y1="707.5" x2="1518" y2="707.5" stroke="#3366cc" stroke-width="1" shape-rendering="crispEdges"/>
<text xml:space="preserve" x="1520.5 1523.5 1529.5 1535.5" y="711.1" font-size="10" fill="#000" font-family='"Liberation Sans", Arial, sans-serif'>-400</text>
<line x1="1514.5" y1="663.5" x2="1518" y2="663.5" stroke="#00a000" stroke-width="1" shape-rendering="crispEdges"/>
<line x1="1515" y1="642" x2="1520.5" y2="636" stroke="#ffaa22" stroke-width="1"/>
<line x1="1515" y1="643" x2="1520.5" y2="650" stroke="#0a0acc" stroke-width="1"/>
<rect x="1520.5" y="628.5" width="39" height="14" fill="#ffffff" stroke="#3366cc" stroke-width="1" shape-rendering="crispEdges"/>
<text xml:space="preserve" x="1524 1530 1536 1542 1545 1551" y="639.4" font-size="10" fill="#ffaa00" font-family='"Liberation Sans", Arial, sans-serif'>204,76</text>
<rect x="1520.5" y="643.5" width="39" height="14" fill="#ffffff" stroke="#3366cc" stroke-width="1" shape-rendering="crispEdges"/>
<text xml:space="preserve" x="1524 1530 1536 1542 1545 1551" y="654.4" font-size="10" fill="#0000dd" font-family='"Liberation Sans", Arial, sans-serif'>183,11</text>
<rect x="1520.5" y="658.5" width="36" height="14" fill="#ffffff" stroke="#3366cc" stroke-width="1" shape-rendering="crispEdges"/>
<text xml:space="preserve" x="1524 1527 1533 1539 1542 1548" y="669.4" font-size="10" fill="#00a000" font-family='"Liberation Sans", Arial, sans-serif'>-21,65</text>
<rect x="1573.5" y="613.5" width="13" height="13" rx="1.6" fill="#c9c9c9" stroke="#000" stroke-width="1.15"/>
<rect x="1574.5" y="614.5" width="11" height="11" fill="none" stroke="#d9d9d9" stroke-width="1"/>
<path d="M1576,616 L1584,624 M1584,616 L1576,624" stroke="#000" stroke-width="1.1"/>
<rect x="16.5" y="717.5" width="1498.0" height="103.0" fill="#ffffff" stroke="#3366cc" shape-rendering="crispEdges"/>
<line x1="80.5" y1="718" x2="80.5" y2="820" stroke="#d2d2d2" stroke-width="1" shape-rendering="crispEdges"/>
<line x1="326.5" y1="718" x2="326.5" y2="820" stroke="#d2d2d2" stroke-width="1" shape-rendering="crispEdges"/>
<line x1="561.5" y1="718" x2="561.5" y2="820" stroke="#d2d2d2" stroke-width="1" shape-rendering="crispEdges"/>
<line x1="808.5" y1="718" x2="808.5" y2="820" stroke="#d2d2d2" stroke-width="1" shape-rendering="crispEdges"/>
<line x1="1027.5" y1="718" x2="1027.5" y2="820" stroke="#d2d2d2" stroke-width="1" shape-rendering="crispEdges"/>
<line x1="1267.5" y1="718" x2="1267.5" y2="820" stroke="#d2d2d2" stroke-width="1" shape-rendering="crispEdges"/>
<line x1="573.5" y1="718" x2="573.5" y2="820" stroke="#b4b4b4" stroke-width="1" shape-rendering="crispEdges"/>
<line x1="17" y1="740.5" x2="1514" y2="740.5" stroke="#d2d2d2" stroke-width="1" shape-rendering="crispEdges"/>
<line x1="17" y1="756.5" x2="1514" y2="756.5" stroke="#d2d2d2" stroke-width="1" shape-rendering="crispEdges"/>
<line x1="17" y1="772.5" x2="1514" y2="772.5" stroke="#d2d2d2" stroke-width="1" shape-rendering="crispEdges"/>
<line x1="17" y1="788.5" x2="1514" y2="788.5" stroke="#d2d2d2" stroke-width="1" shape-rendering="crispEdges"/>
<line x1="17" y1="804.5" x2="1514" y2="804.5" stroke="#d2d2d2" stroke-width="1" shape-rendering="crispEdges"/>
<g shape-rendering="crispEdges" fill="#00dd10">
<rect x="44" y="818" width="5" height="2"/>
<rect x="55" y="819" width="5" height="1"/>
<rect x="66" y="819" width="5" height="1"/>
<rect x="78" y="819" width="5" height="1"/>
<rect x="89" y="815" width="5" height="5"/>
<rect x="100" y="819" width="5" height="1"/>
<rect x="111" y="819" width="5" height="1"/>
<rect x="122" y="819" width="5" height="1"/>
<rect x="134" y="815" width="5" height="5"/>
<rect x="145" y="815" width="5" height="5"/>
<rect x="156" y="817" width="5" height="3"/>
<rect x="167" y="816" width="5" height="4"/>
<rect x="178" y="817" width="5" height="3"/>
<rect x="190" y="816" width="5" height="4"/>
<rect x="201" y="815" width="5" height="5"/>
<rect x="212" y="819" width="5" height="1"/>
<rect x="223" y="819" width="5" height="1"/>
<rect x="234" y="819" width="5" height="1"/>
<rect x="246" y="817" width="5" height="3"/>
<rect x="257" y="816" width="5" height="4"/>
<rect x="268" y="816" width="5" height="4"/>
<rect x="279" y="816" width="5" height="4"/>
<rect x="290" y="819" width="5" height="1"/>
<rect x="302" y="819" width="5" height="1"/>
<rect x="313" y="819" width="5" height="1"/>
<rect x="324" y="819" width="5" height="1"/>
<rect x="335" y="819" width="5" height="1"/>
<rect x="347" y="819" width="5" height="1"/>
<rect x="358" y="819" width="5" height="1"/>
<rect x="369" y="819" width="5" height="1"/>
<rect x="380" y="819" width="5" height="1"/>
<rect x="391" y="819" width="5" height="1"/>
<rect x="403" y="819" width="5" height="1"/>
<rect x="414" y="818" width="5" height="2"/>
<rect x="425" y="819" width="5" height="1"/>
<rect x="436" y="819" width="5" height="1"/>
<rect x="447" y="819" width="5" height="1"/>
<rect x="459" y="818" width="5" height="2"/>
<rect x="470" y="819" width="5" height="1"/>
<rect x="481" y="818" width="5" height="2"/>
<rect x="492" y="815" width="5" height="5"/>
<rect x="503" y="819" width="5" height="1"/>
<rect x="515" y="819" width="5" height="1"/>
<rect x="526" y="817" width="5" height="3"/>
<rect x="537" y="816" width="5" height="4"/>
<rect x="548" y="816" width="5" height="4"/>
<rect x="559" y="818" width="5" height="2"/>
<rect x="571" y="811" width="5" height="9"/>
<rect x="582" y="816" width="5" height="4"/>
<rect x="593" y="816" width="5" height="4"/>
<rect x="604" y="808" width="5" height="12"/>
<rect x="615" y="818" width="5" height="2"/>
<rect x="627" y="818" width="5" height="2"/>
<rect x="638" y="818" width="5" height="2"/>
<rect x="649" y="818" width="5" height="2"/>
<rect x="660" y="816" width="5" height="4"/>
<rect x="671" y="818" width="5" height="2"/>
<rect x="683" y="818" width="5" height="2"/>
<rect x="694" y="818" width="5" height="2"/>
<rect x="705" y="818" width="5" height="2"/>
<rect x="716" y="818" width="5" height="2"/>
<rect x="727" y="819" width="5" height="1"/>
<rect x="739" y="819" width="5" height="1"/>
<rect x="750" y="819" width="5" height="1"/>
<rect x="761" y="817" width="5" height="3"/>
<rect x="772" y="819" width="5" height="1"/>
<rect x="784" y="817" width="5" height="3"/>
<rect x="795" y="817" width="5" height="3"/>
<rect x="806" y="819" width="5" height="1"/>
<rect x="817" y="819" width="5" height="1"/>
<rect x="828" y="819" width="5" height="1"/>
<rect x="840" y="819" width="5" height="1"/>
<rect x="851" y="819" width="5" height="1"/>
<rect x="862" y="816" width="5" height="4"/>
<rect x="873" y="819" width="5" height="1"/>
<rect x="884" y="819" width="5" height="1"/>
<rect x="896" y="819" width="5" height="1"/>
<rect x="907" y="819" width="5" height="1"/>
<rect x="918" y="819" width="5" height="1"/>
<rect x="929" y="819" width="5" height="1"/>
<rect x="940" y="819" width="5" height="1"/>
<rect x="952" y="819" width="5" height="1"/>
<rect x="963" y="818" width="5" height="2"/>
<rect x="974" y="817" width="5" height="3"/>
<rect x="985" y="817" width="5" height="3"/>
<rect x="996" y="819" width="5" height="1"/>
<rect x="1008" y="819" width="5" height="1"/>
<rect x="1019" y="819" width="5" height="1"/>
<rect x="1030" y="819" width="5" height="1"/>
<rect x="1041" y="819" width="5" height="1"/>
<rect x="1052" y="819" width="5" height="1"/>
<rect x="1064" y="819" width="5" height="1"/>
<rect x="1075" y="819" width="5" height="1"/>
<rect x="1086" y="819" width="5" height="1"/>
<rect x="1097" y="819" width="5" height="1"/>
<rect x="1108" y="819" width="5" height="1"/>
<rect x="1120" y="817" width="5" height="3"/>
<rect x="1131" y="817" width="5" height="3"/>
<rect x="1142" y="818" width="5" height="2"/>
<rect x="1153" y="817" width="5" height="3"/>
<rect x="1165" y="815" width="5" height="5"/>
<rect x="1176" y="816" width="5" height="4"/>
<rect x="1187" y="816" width="5" height="4"/>
<rect x="1198" y="817" width="5" height="3"/>
<rect x="1209" y="817" width="5" height="3"/>
<rect x="1221" y="818" width="5" height="2"/>
<rect x="1232" y="817" width="5" height="3"/>
<rect x="1243" y="818" width="5" height="2"/>
<rect x="1254" y="796" width="5" height="24"/>
<rect x="1265" y="810" width="5" height="10"/>
<rect x="1277" y="817" width="5" height="3"/>
<rect x="1288" y="814" width="5" height="6"/>
<rect x="1299" y="818" width="5" height="2"/>
<rect x="1310" y="818" width="5" height="2"/>
<rect x="1321" y="818" width="5" height="2"/>
<rect x="1333" y="818" width="5" height="2"/>
<rect x="1344" y="808" width="5" height="12"/>
<rect x="1355" y="812" width="5" height="8"/>
<rect x="1366" y="817" width="5" height="3"/>
<rect x="1377" y="815" width="5" height="5"/>
<rect x="1389" y="815" width="5" height="5"/>
<rect x="1400" y="818" width="5" height="2"/>
<rect x="1411" y="818" width="5" height="2"/>
<rect x="1422" y="813" width="5" height="7"/>
<rect x="1433" y="731" width="5" height="89"/>
<rect x="1445" y="818" width="5" height="2"/>
<rect x="1456" y="815" width="5" height="5"/>
<rect x="1467" y="805" width="5" height="15"/>
</g>
<polyline points="46.5,818 57.5,818.182 68.5,818.331 80.5,818.452 91.5,817.825 102.5,818.038 113.5,818.213 124.5,818.356 136.5,817.746 147.5,817.247 158.5,817.202 169.5,816.983 180.5,816.986 192.5,816.807 203.5,816.478 214.5,816.937 225.5,817.312 236.5,817.619 248.5,817.506 259.5,817.233 270.5,817.008 281.5,816.825 292.5,817.221 304.5,817.544 315.5,817.809 326.5,818.025 337.5,818.203 349.5,818.348 360.5,818.466 371.5,818.563 382.5,818.643 393.5,818.708 405.5,818.761 416.5,818.622 427.5,818.691 438.5,818.747 449.5,818.793 461.5,818.649 472.5,818.713 483.5,818.583 494.5,817.932 505.5,818.126 517.5,818.285 528.5,818.051 539.5,817.678 550.5,817.373 561.5,817.487 573.5,816.308 584.5,816.343 595.5,816.371 606.5,814.849 617.5,815.422 629.5,815.891 640.5,816.274 651.5,816.588 662.5,816.481 673.5,816.757 685.5,816.983 696.5,817.168 707.5,817.228 718.5,817.369 729.5,817.665 741.5,817.908 752.5,818.107 763.5,817.905 774.5,818.104 786.5,817.904 797.5,817.739 808.5,817.969 819.5,818.156 830.5,818.31 842.5,818.435 853.5,818.538 864.5,818.076 875.5,818.244 886.5,818.382 898.5,818.494 909.5,818.586 920.5,818.752 931.5,818.888 942.5,818.999 954.5,819.09 965.5,818.892 976.5,818.548 987.5,818.267 998.5,818.4 1010.5,818.509 1021.5,818.598 1032.5,818.671 1043.5,818.731 1054.5,818.78 1066.5,818.82 1077.5,818.853 1088.5,818.88 1099.5,818.901 1110.5,818.919 1122.5,818.57 1133.5,818.285 1144.5,818.324 1155.5,818.083 1167.5,817.523 1178.5,817.246 1189.5,817.019 1200.5,817.016 1211.5,817.013 1223.5,817.283 1234.5,817.232 1245.5,817.462 1256.5,813.56 1267.5,812.913 1279.5,813.656 1290.5,813.719 1301.5,814.497 1312.5,815.134 1323.5,815.655 1335.5,816.081 1346.5,814.703 1357.5,814.211 1368.5,814.718 1379.5,814.77 1391.5,814.812 1402.5,815.391 1413.5,815.866 1424.5,815.345 1435.5,800.009 1447.5,803.28 1458.5,805.411 1469.5,805.336" fill="none" stroke="#2fe03c" stroke-width="1.1" stroke-linejoin="round" stroke-linecap="round" />
<rect x="16.5" y="717.5" width="222" height="14" fill="#fff6c9" stroke="#3366cc" stroke-width="1" shape-rendering="crispEdges"/>
<text xml:space="preserve" x="20.5 27.5 35.5 41.5 48.5 57.5 64.5 67.5 70.5 73.5 80.5 86.5 88.5 94.5 102.5 108.5 111.5 119.5 121.5 124.5 130.5 133.5 140.5 149.5 156.5 159.5 162.5 168.5 174.5 177.5 180.5 183.5 189.5 192.5 198.5 204.5 210.5 213.5 219.5 225.5 231.5" y="728" font-size="10" fill="#000" font-family='"Liberation Sans", Arial, sans-serif'>VOLEMA - Volume with EMA (10) [4.737.676]</text>
<line x1="1514.5" y1="740.5" x2="1518" y2="740.5" stroke="#3366cc" stroke-width="1" shape-rendering="crispEdges"/>
<text xml:space="preserve" x="1520.5 1526.5 1532.5 1535.5 1541.5 1547.5 1553.5 1556.5 1562.5 1568.5" y="744.1" font-size="10" fill="#000" font-family='"Liberation Sans", Arial, sans-serif'>25.000.000</text>
<line x1="1514.5" y1="756.5" x2="1518" y2="756.5" stroke="#3366cc" stroke-width="1" shape-rendering="crispEdges"/>
<text xml:space="preserve" x="1520.5 1526.5 1532.5 1535.5 1541.5 1547.5 1553.5 1556.5 1562.5 1568.5" y="760.1" font-size="10" fill="#000" font-family='"Liberation Sans", Arial, sans-serif'>20.000.000</text>
<line x1="1514.5" y1="772.5" x2="1518" y2="772.5" stroke="#3366cc" stroke-width="1" shape-rendering="crispEdges"/>
<text xml:space="preserve" x="1520.5 1526.5 1532.5 1535.5 1541.5 1547.5 1553.5 1556.5 1562.5 1568.5" y="776.1" font-size="10" fill="#000" font-family='"Liberation Sans", Arial, sans-serif'>15.000.000</text>
<line x1="1514.5" y1="788.5" x2="1518" y2="788.5" stroke="#3366cc" stroke-width="1" shape-rendering="crispEdges"/>
<text xml:space="preserve" x="1520.5 1526.5 1532.5 1535.5 1541.5 1547.5 1553.5 1556.5 1562.5 1568.5" y="792.1" font-size="10" fill="#000" font-family='"Liberation Sans", Arial, sans-serif'>10.000.000</text>
<line x1="1515" y1="805" x2="1521" y2="796" stroke="#00cc22" stroke-width="1"/>
<line x1="1515" y1="816" x2="1521" y2="810" stroke="#00cc22" stroke-width="1"/>
<rect x="1520.5" y="793.5" width="68" height="14" fill="#ffffff" stroke="#3366cc" stroke-width="1" shape-rendering="crispEdges"/>
<text xml:space="preserve" x="1524 1530 1533 1539 1545 1551 1554 1560 1566 1572 1575 1581" y="804.4" font-size="10" fill="#00cc22" font-family='"Liberation Sans", Arial, sans-serif'>1.146.001,45</text>
<rect x="1520.5" y="808.5" width="54" height="14" fill="#ffffff" stroke="#3366cc" stroke-width="1" shape-rendering="crispEdges"/>
<text xml:space="preserve" x="1524 1530 1533 1539 1545 1551 1554 1560 1566" y="819.4" font-size="10" fill="#00cc22" font-family='"Liberation Sans", Arial, sans-serif'>2.896.491</text>
<rect x="1573.5" y="718.5" width="13" height="13" rx="1.6" fill="#c9c9c9" stroke="#000" stroke-width="1.15"/>
<rect x="1574.5" y="719.5" width="11" height="11" fill="none" stroke="#d9d9d9" stroke-width="1"/>
<path d="M1576,721 L1584,729 M1584,721 L1576,729" stroke="#000" stroke-width="1.1"/>
<rect x="16.5" y="831.5" width="17" height="17" rx="1.5" fill="#ffffe9" stroke="#000" stroke-width="1"/>
<path d="M17.5,847.5 H32.5 V832.5" fill="none" stroke="#c9c9b4" stroke-width="1"/>
<g fill="#000"><path d="M19,834 h4.200 l-1.400,1.400 l1.600,1.600 l-1.400,1.400 l-1.600,-1.600 l-1.400,1.400 Z"/><path d="M31,834 v4.200 l-1.400,-1.400 l-1.600,1.600 l-1.400,-1.400 l1.600,-1.600 l-1.400,-1.400 Z"/><path d="M19,846 v-4.200 l1.400,1.400 l1.600,-1.600 l1.400,1.400 l-1.600,1.600 l1.400,1.400 Z"/><path d="M31,846 h-4.200 l1.400,-1.400 l-1.600,-1.600 l1.400,-1.400 l1.600,1.600 l1.400,-1.400 Z"/></g><rect x="22.500" y="837.500" width="5" height="5" fill="#ffffff" stroke="#990000" stroke-width="1.100"/>
<rect x="38.5" y="831.5" width="17" height="17" rx="1.5" fill="#ffffe9" stroke="#000" stroke-width="1"/>
<path d="M39.5,847.5 H54.5 V832.5" fill="none" stroke="#c9c9b4" stroke-width="1"/>
<g><path d="M41,840 q0,-2.200 2.200,-2.200 h7.600 q2.200,0 2.200,2.200 v2.500 q0,3.200 -3.200,3.200 h-5.600 q-3.200,0 -3.200,-3.200 Z" fill="#3f74d6" stroke="#2a56b0" stroke-width="0.800"/><path d="M42.500,839.500 h9 v2.800 h-9 Z" fill="#e9f0fb"/><path d="M44.500,841 v-6.500 h4 l2,2 v4.500 Z" fill="#f4f6fb" stroke="#6a6a72" stroke-width="0.900"/><path d="M45.800,837.300 h3.200 M45.800,839.300 h3.200" stroke="#2f62c8" stroke-width="0.900"/><path d="M42,843.300 h10" stroke="#8db1ee" stroke-width="1"/></g>
<text xml:space="preserve" x="64" y="844.2" font-size="11" fill="#000" textLength="280.5" lengthAdjust="spacingAndGlyphs" font-family='"Liberation Sans", Arial, sans-serif'>Pop-up menu available. Right-click to display pop-up menu.</text>
<rect x="0" y="861" width="1600" height="39" fill="url(#gTask)" shape-rendering="crispEdges"/>
<polygon points="560,861 700,861 640,900 500,900" fill="#b4b8c0" opacity="0.4" filter="url(#fBlur2)"/>
<polygon points="760,861 900,861 820,900 700,900" fill="#e6e8ec" opacity="0.6" filter="url(#fBlur2)"/>
<polygon points="930,861 1010,861 960,900 880,900" fill="#b9bdc5" opacity="0.4" filter="url(#fBlur2)"/>
<rect x="0" y="861" width="1600" height="39" fill="url(#gTaskV)" shape-rendering="crispEdges"/>
<rect x="0" y="861" width="1600" height="1" fill="#4a4f58" shape-rendering="crispEdges"/>
<rect x="0" y="862" width="1600" height="1" fill="#70757e" shape-rendering="crispEdges" opacity="0.7"/>
<rect x="0" y="863" width="1600" height="1" fill="#8a8f98" shape-rendering="crispEdges" opacity="0.4"/>
<circle cx="27.2" cy="880" r="18.3" fill="#0e3a6e"/><circle cx="27.2" cy="880" r="17.3" fill="url(#gOrb)" stroke="#cfe4f4" stroke-opacity="0.7" stroke-width="0.8"/><ellipse cx="27.2" cy="893" rx="11" ry="4.500" fill="#29d4f4" opacity="0.65"/><path d="M10.500,878 Q13,864 27.200,863.300 Q41.500,864 44,878 Q35,882.500 27.200,880.500 Q19,878.500 10.500,878 Z" fill="#ffffff" opacity="0.30"/><path d="M19.300,870.600 q4.200,-2.400 7.800,-0.500 l-1.600,8 q-3.600,-1.700 -7.900,0.700 Z" fill="#f0562a"/><path d="M28.400,870.600 q4.300,2 8.900,-0.600 l-1.700,8 q-4.500,2.500 -8.800,0.600 Z" fill="#8ec63f"/><path d="M17.300,880.400 q4.300,-2.400 7.900,-0.700 l-1.600,8 q-3.600,-1.800 -8,0.700 Z" fill="#2aa6e6"/><path d="M26.500,880.300 q4.300,2 8.800,-0.600 l-1.700,8 q-4.500,2.600 -8.800,0.700 Z" fill="#fcb532"/>
<rect x="60.5" y="861.5" width="57" height="41" rx="3" fill="#ffffff" fill-opacity="0.3" stroke="#4a4f58" stroke-width="1"/><rect x="61.5" y="862.5" width="55" height="41" rx="2" fill="none" stroke="#ffffff" stroke-opacity="0.6" stroke-width="1"/>
<rect x="122.5" y="861.5" width="49" height="41" rx="3" fill="#ffffff" fill-opacity="0.3" stroke="#4a4f58" stroke-width="1"/><rect x="123.5" y="862.5" width="47" height="41" rx="2" fill="none" stroke="#ffffff" stroke-opacity="0.6" stroke-width="1"/>
<rect x="432.5" y="861.5" width="57" height="41" rx="3" fill="#ffffff" fill-opacity="0.6" stroke="#4a4f58" stroke-width="1"/><rect x="433.5" y="862.5" width="55" height="41" rx="2" fill="none" stroke="#ffffff" stroke-opacity="0.6" stroke-width="1"/>
<rect x="494.5" y="861.5" width="57" height="41" rx="3" fill="#ffffff" fill-opacity="0.6" stroke="#4a4f58" stroke-width="1"/><rect x="495.5" y="862.5" width="55" height="41" rx="2" fill="none" stroke="#ffffff" stroke-opacity="0.6" stroke-width="1"/>
<line x1="175.5" y1="863" x2="175.5" y2="900" stroke="#5c626c" stroke-width="1" shape-rendering="crispEdges"/>
<line x1="177.5" y1="863" x2="177.5" y2="900" stroke="#e0e2e6" stroke-width="1" shape-rendering="crispEdges"/>
<g><rect x="80.500" y="870.500" width="20" height="22" fill="#9ccdee" stroke="#5ea8dc"/><rect x="78.500" y="870" width="20" height="22.500" fill="#a9d5f0" stroke="#5ea8dc"/><rect x="75.500" y="869.500" width="21" height="23.500" fill="#b4dbf3" stroke="#5aa6dc"/><circle cx="85.500" cy="881" r="8.500" fill="#f57a14"/><circle cx="85.500" cy="881" r="8" fill="none" stroke="#fb9a3c" stroke-width="1"/><path d="M82,875.300 l9.800,5.700 l-9.800,5.900 Z" fill="#fff"/></g>
<g><path d="M157.300,881.800 A8.800,8.800 0 1 0 155.300,887.700" fill="none" stroke="#1668c4" stroke-width="5.600"/><path d="M157.300,881.800 A8.800,8.800 0 1 0 155.300,887.700" fill="none" stroke="#3f9cf0" stroke-width="2.600"/><path d="M141,882 H158.500" stroke="#1668c4" stroke-width="3.600"/><path d="M134.500,889 Q132,895 141,892.500 Q152,888.500 159,878.500 Q164,870 156,869.500" fill="none" stroke="#f2c02a" stroke-width="2.200" stroke-linecap="round"/></g>
<g><path d="M198,872 l2,-4 h12 l2,3 h15 v22 h-31 Z" fill="#f3d774" stroke="#c9a53a"/><rect x="198.500" y="875" width="30" height="18.500" fill="#f8e49a" stroke="#d2b14c"/><rect x="201" y="868.500" width="4" height="2" fill="#2ab34b"/><rect x="209" y="869.500" width="4" height="2" fill="#e03a2a"/><rect x="217" y="871" width="4" height="2" fill="#2a8de0"/><path d="M202,895 v-11 q0,-2 2,-2 h18 q2,0 2,2 v11 h-5 v-7 h-12 v7 Z" fill="#7ec3ee" stroke="#4d96c8"/></g>
<g><rect x="267.500" y="866.500" width="22" height="27" fill="#fdfdfd" stroke="#9fb6d6" transform="rotate(6 278 880)"/><rect x="260.500" y="868.500" width="18" height="22" rx="2" fill="#2b5fb5" stroke="#1d4690"/><path d="M272,878 h14 M272,881.500 h14 M272,885 h14 M272,888.500 h14" stroke="#2b5fb5" stroke-width="1.600"/></g>
<text xml:space="preserve" x="263" y="884" font-size="13" fill="#ffffff" font-weight="bold" font-family='"Liberation Sans", Arial, sans-serif' font-style="italic">W</text>
<g><rect x="329.500" y="867.500" width="22" height="25" fill="#f7fbf4" stroke="#8fbf7f" transform="rotate(6 340 880)"/><rect x="321.500" y="866.500" width="19" height="21" rx="2" fill="#e8f4e2" stroke="#3f9a3a"/><path d="M326,880 h24 M326,885 h24 M326,890 h24 M334,876 v16 M342,876 v16" stroke="#4f9d45" stroke-width="1.800"/></g>
<text xml:space="preserve" x="325" y="881" font-size="13" fill="#2a7a2a" font-weight="bold" font-family='"Liberation Sans", Arial, sans-serif'>X</text>
<g><path d="M384,868 l3,-3 h27 v25 l-3,3 h-27 Z" fill="#a80a0a"/><rect x="386.500" y="865.500" width="27" height="25" fill="#d21414" stroke="#8a0606"/><path d="M391,886 q6,-4 8,-16 q1,-2 2,0 q0,8 9,12 q2,1.500 -1,1.500 q-8,-1 -17,4 q-3,1 -1,-1.500 Z" fill="none" stroke="#fff" stroke-width="1.400"/></g>
<g><rect x="445.500" y="865.500" width="25" height="25" rx="3" fill="#fbd28a" stroke="#e89a1e"/><rect x="449.500" y="868.500" width="18" height="19" fill="#fde6b8" stroke="#efb04a"/><path d="M453,874 h23 v16 h-23 Z" fill="#fdfdf6" stroke="#c9c3a2"/><path d="M453,874 l11.500,8 l11.500,-8" fill="none" stroke="#c9c3a2"/><circle cx="461" cy="883" r="8.500" fill="#f8c82c" stroke="#d79b10"/><path d="M457,880 l4,3.500 l5,-3" fill="none" stroke="#8a6a10" stroke-width="1.300"/></g>
<g><rect x="507.500" y="865.500" width="31" height="30" rx="4" fill="#f1f5fa" stroke="#7d98b8"/><path d="M523.500,868 q4,4 -1,8 q-2.500,2.500 0,5 M526.500,871 q2.500,3 -1,6" fill="none" stroke="#e76f1e" stroke-width="1.400"/><path d="M515.500,883 h14 M530,883 q4,0.500 0,4 M516.500,886.500 h12 M517.500,889.500 h10 M514,892.500 q9,2.500 18,0" fill="none" stroke="#4a78a8" stroke-width="1.400"/></g>
<text xml:space="preserve" x="1330" y="883" font-size="12" fill="#ffffff" textLength="13.5" lengthAdjust="spacingAndGlyphs" font-family='"Liberation Sans", Arial, sans-serif'>ES</text>
<path d="M1359.500,883 l4.500,-4.500 l4.500,4.500 Z" fill="#f0f2f8" stroke="#4d5564" stroke-width="0.600"/>
<g><rect x="1381.500" y="876.500" width="12" height="9" fill="#f6d257" stroke="#b8922a"/><path d="M1381.500,876.500 l6,5 l6,-5 M1381.500,885.500 l4.500,-4.500 M1393.500,885.500 l-4.500,-4.500" fill="none" stroke="#b8922a" stroke-width="0.800"/></g>
<g><path d="M1411.500,874 v14" stroke="#fff" stroke-width="1.600"/><path d="M1412.500,875 q3,-1.500 5.500,0 q2.500,1.500 5,0 v7 q-2.500,1.500 -5,0 q-2.500,-1.500 -5.500,0 Z" fill="#e8eaf0" stroke="#fff" stroke-width="0.800"/><circle cx="1421" cy="884.500" r="4.200" fill="#e0201c" stroke="#fff" stroke-width="0.800"/><path d="M1419.200,882.700 l3.600,3.600 M1422.800,882.700 l-3.600,3.600" stroke="#fff" stroke-width="1.300"/></g>
<g fill="none" stroke="#fff" stroke-width="1.400"><rect x="1435.500" y="875.500" width="7" height="11" rx="1"/><path d="M1441,877 h5 v5 q0,3 -2.500,3 v3 M1442,874 v3 M1446,874 v3" /><path d="M1437,873.500 v2 M1441,873.500 v2"/></g>
<g fill="none" stroke="#fff" stroke-width="1.400"><rect x="1462.500" y="876.500" width="11" height="8"/><path d="M1465,888 h6 M1468,884.500 v3.500 M1460,874 v13 M1458,874 v4 h4 v-4"/></g>
<g><path d="M1483,879 h3 l4,-4 v12 l-4,-4 h-3 Z" fill="#e8eaf0" stroke="#fff" stroke-width="0.800"/><path d="M1492,878 q2.500,3 0,6 M1494.500,876 q4,5 0,10" fill="none" stroke="#fff" stroke-width="1.100"/></g>
<text xml:space="preserve" x="1532.3" y="877" font-size="12" fill="#ffffff" textLength="26.3" lengthAdjust="spacingAndGlyphs" font-family='"Liberation Sans", Arial, sans-serif'>11:17</text>
<text xml:space="preserve" x="1516" y="894" font-size="12" fill="#ffffff" textLength="58" lengthAdjust="spacingAndGlyphs" font-family='"Liberation Sans", Arial, sans-serif'>27-06-2012</text>
<rect x="1586.500" y="862.500" width="14" height="38" fill="#8a909b" stroke="#3e434b"/><rect x="1587.500" y="863.500" width="12" height="36" fill="none" stroke="#c8ccd3" stroke-opacity="0.700"/>
</svg></body></html>
